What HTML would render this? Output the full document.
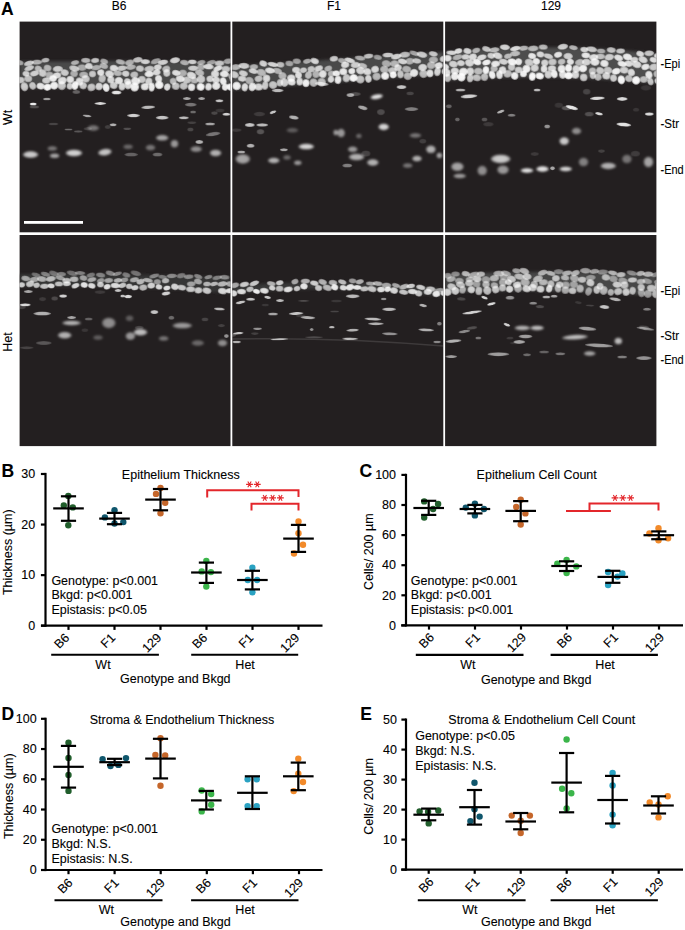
<!DOCTYPE html>
<html><head><meta charset="utf-8"><style>
html,body{margin:0;padding:0;background:#fff;}
body{width:685px;height:930px;overflow:hidden;}
svg{display:block;font-family:"Liberation Sans", sans-serif;}
text{stroke:#000;stroke-width:0.1px;}
</style></head><body>
<svg width="685" height="930" viewBox="0 0 685 930">
<defs><filter id="bl" x="-20%" y="-20%" width="140%" height="140%"><feGaussianBlur stdDeviation="0.7"/></filter><radialGradient id="ng"><stop offset="0" stop-color="#fff"/><stop offset="0.65" stop-color="#fff" stop-opacity="0.97"/><stop offset="1" stop-color="#fff" stop-opacity="0.5"/></radialGradient><filter id="bl4" x="-20%" y="-20%" width="140%" height="140%"><feGaussianBlur stdDeviation="1.1"/></filter><filter id="bl3" x="-10%" y="-50%" width="120%" height="200%"><feGaussianBlur stdDeviation="6"/></filter><filter id="bl2" x="-5%" y="-50%" width="110%" height="200%"><feGaussianBlur stdDeviation="1.6"/></filter><clipPath id="cp0"><rect x="0" y="0" width="210.9" height="210.7"/></clipPath><clipPath id="cp1"><rect x="0" y="0" width="211" height="210.7"/></clipPath><clipPath id="cp2"><rect x="0" y="0" width="211.3" height="210.7"/></clipPath><clipPath id="cp3"><rect x="0" y="0" width="210.9" height="211.1"/></clipPath><clipPath id="cp4"><rect x="0" y="0" width="211" height="211.1"/></clipPath><clipPath id="cp5"><rect x="0" y="0" width="211.3" height="211.1"/></clipPath></defs>
<g transform="translate(19.6 21.6)"><rect x="0" y="0" width="210.9" height="210.7" fill="#231f20"/>
<g clip-path="url(#cp0)"><g filter="url(#bl)" fill="url(#ng)">
<polygon points="0,40 8.79,39.9 17.58,39.81 26.38,39.73 35.17,39.67 43.96,39.61 52.75,39.56 61.54,39.53 70.33,39.5 79.12,39.48 87.92,39.48 96.71,39.48 105.5,39.5 114.29,39.53 123.08,39.56 131.88,39.61 140.67,39.67 149.46,39.73 158.25,39.81 167.04,39.9 175.83,40 184.62,40.11 193.42,40.23 202.21,40.36 211,40.5 211,66.5 202.21,66.5 193.42,66.5 184.62,66.5 175.83,66.5 167.04,66.5 158.25,66.5 149.46,66.5 140.67,66.5 131.88,66.5 123.08,66.5 114.29,66.5 105.5,66.5 96.71,66.5 87.92,66.5 79.12,66.5 70.33,66.5 61.54,66.5 52.75,66.5 43.96,66.5 35.17,66.5 26.38,66.5 17.58,66.5 8.79,66.5 0,66.5" fill="rgb(72,72,72)" filter="url(#bl2)"/>
<ellipse cx="4.86" cy="65.18" rx="3.89" ry="4.7" fill-opacity="0.74" transform="rotate(-14.79 4.86 65.18)"/>
<ellipse cx="13.04" cy="64.2" rx="3.49" ry="4.06" fill-opacity="0.69" transform="rotate(-18.37 13.04 64.2)"/>
<ellipse cx="20.99" cy="64.58" rx="4.36" ry="3.52" fill-opacity="0.87" transform="rotate(13.34 20.99 64.58)"/>
<ellipse cx="27.84" cy="65.61" rx="4.11" ry="3.63" fill-opacity="0.97" transform="rotate(-13.59 27.84 65.61)"/>
<ellipse cx="34.56" cy="64.01" rx="4.22" ry="4.17" fill-opacity="0.92" transform="rotate(-12.23 34.56 64.01)"/>
<ellipse cx="42.16" cy="64.03" rx="4.37" ry="4.57" fill-opacity="0.7" transform="rotate(-8.25 42.16 64.03)"/>
<ellipse cx="50.19" cy="64.55" rx="3.21" ry="3.67" fill-opacity="0.74" transform="rotate(6.08 50.19 64.55)"/>
<ellipse cx="55.42" cy="63.93" rx="3.46" ry="4.58" fill-opacity="0.94" transform="rotate(5.3 55.42 63.93)"/>
<ellipse cx="63.61" cy="64.05" rx="3.82" ry="3.74" fill-opacity="0.72" transform="rotate(14.86 63.61 64.05)"/>
<ellipse cx="71.83" cy="65.77" rx="4.2" ry="4.01" fill-opacity="0.7" transform="rotate(-7.05 71.83 65.77)"/>
<ellipse cx="79.48" cy="64.88" rx="3.81" ry="3.99" fill-opacity="0.79" transform="rotate(16.75 79.48 64.88)"/>
<ellipse cx="86.46" cy="65.99" rx="3.64" ry="4.59" fill-opacity="0.92" transform="rotate(-16.06 86.46 65.99)"/>
<ellipse cx="94.09" cy="63.84" rx="4.02" ry="3.69" fill-opacity="0.74" transform="rotate(10.65 94.09 63.84)"/>
<ellipse cx="102.42" cy="64.88" rx="3.47" ry="4.25" fill-opacity="0.79" transform="rotate(4.81 102.42 64.88)"/>
<ellipse cx="108.67" cy="63.45" rx="3.82" ry="4.46" fill-opacity="0.81" transform="rotate(13.47 108.67 63.45)"/>
<ellipse cx="115.05" cy="65.47" rx="4.48" ry="4.72" fill-opacity="0.93" transform="rotate(4.24 115.05 65.47)"/>
<ellipse cx="125.25" cy="65.16" rx="4.13" ry="3.77" fill-opacity="0.87" transform="rotate(-3.12 125.25 65.16)"/>
<ellipse cx="132.13" cy="65.55" rx="3.2" ry="4.65" fill-opacity="0.91" transform="rotate(3.3 132.13 65.55)"/>
<ellipse cx="139.69" cy="63.45" rx="4.47" ry="4.26" fill-opacity="0.95" transform="rotate(9.01 139.69 63.45)"/>
<ellipse cx="147.69" cy="65.46" rx="3.33" ry="3.88" fill-opacity="0.83" transform="rotate(16.4 147.69 65.46)"/>
<ellipse cx="156.17" cy="64.58" rx="4.04" ry="3.85" fill-opacity="0.68" transform="rotate(10.6 156.17 64.58)"/>
<ellipse cx="164.16" cy="64.47" rx="4.28" ry="3.82" fill-opacity="0.68" transform="rotate(-16.97 164.16 64.47)"/>
<ellipse cx="171.93" cy="65.62" rx="3.82" ry="4.04" fill-opacity="0.89" transform="rotate(0.31 171.93 65.62)"/>
<ellipse cx="181.1" cy="65.25" rx="4.21" ry="4.02" fill-opacity="0.95" transform="rotate(13.34 181.1 65.25)"/>
<ellipse cx="188.95" cy="65.24" rx="3.47" ry="3.96" fill-opacity="0.85" transform="rotate(11.17 188.95 65.24)"/>
<ellipse cx="196.58" cy="64.39" rx="4.37" ry="4.05" fill-opacity="0.88" transform="rotate(-12.44 196.58 64.39)"/>
<ellipse cx="205.53" cy="65.49" rx="3.27" ry="3.82" fill-opacity="0.9" transform="rotate(10.42 205.53 65.49)"/>
<ellipse cx="211.25" cy="65.51" rx="4.47" ry="3.86" fill-opacity="0.97" transform="rotate(18.63 211.25 65.51)"/>
<ellipse cx="0.63" cy="58.52" rx="4.67" ry="3.44" fill-opacity="0.71" transform="rotate(-3 0.63 58.52)"/>
<ellipse cx="8.64" cy="57.05" rx="4.19" ry="3.7" fill-opacity="0.66" transform="rotate(0.31 8.64 57.05)"/>
<ellipse cx="26.73" cy="58.89" rx="4.39" ry="3.31" fill-opacity="0.74" transform="rotate(-2.19 26.73 58.89)"/>
<ellipse cx="33.47" cy="56.94" rx="3.97" ry="3.46" fill-opacity="0.9" transform="rotate(0.65 33.47 56.94)"/>
<ellipse cx="42.69" cy="58.97" rx="4.76" ry="3.93" fill-opacity="0.83" transform="rotate(-16.2 42.69 58.97)"/>
<ellipse cx="50.71" cy="57.89" rx="4.04" ry="3.84" fill-opacity="0.85" transform="rotate(-1.78 50.71 57.89)"/>
<ellipse cx="59.81" cy="59.96" rx="3.96" ry="4.23" fill-opacity="0.83" transform="rotate(4.98 59.81 59.96)"/>
<ellipse cx="66.04" cy="57.28" rx="4.35" ry="3.85" fill-opacity="0.71" transform="rotate(5.78 66.04 57.28)"/>
<ellipse cx="82.56" cy="56.97" rx="3.82" ry="4.33" fill-opacity="0.66" transform="rotate(10.66 82.56 56.97)"/>
<ellipse cx="91.3" cy="58.17" rx="3.81" ry="3.88" fill-opacity="0.79" transform="rotate(4.75 91.3 58.17)"/>
<ellipse cx="99.24" cy="59.05" rx="4.47" ry="3.86" fill-opacity="0.86" transform="rotate(-5.28 99.24 59.05)"/>
<ellipse cx="107.95" cy="59.87" rx="3.86" ry="3.41" fill-opacity="0.77" transform="rotate(15.75 107.95 59.87)"/>
<ellipse cx="116.02" cy="59.53" rx="4.82" ry="4.23" fill-opacity="0.87" transform="rotate(11.46 116.02 59.53)"/>
<ellipse cx="122.27" cy="57.89" rx="4.13" ry="3.75" fill-opacity="0.7" transform="rotate(3.08 122.27 57.89)"/>
<ellipse cx="129.22" cy="59.95" rx="3.7" ry="4.18" fill-opacity="0.76" transform="rotate(10.44 129.22 59.95)"/>
<ellipse cx="138.99" cy="57.14" rx="3.7" ry="3.98" fill-opacity="0.86" transform="rotate(-15.93 138.99 57.14)"/>
<ellipse cx="153.54" cy="59.74" rx="3.49" ry="3.69" fill-opacity="0.62" transform="rotate(-16.28 153.54 59.74)"/>
<ellipse cx="160.56" cy="57.25" rx="4.71" ry="3.58" fill-opacity="0.84" transform="rotate(8.54 160.56 57.25)"/>
<ellipse cx="167.14" cy="58.4" rx="4.46" ry="3.72" fill-opacity="0.7" transform="rotate(7.59 167.14 58.4)"/>
<ellipse cx="174.71" cy="58.65" rx="4.12" ry="3.4" fill-opacity="0.62" transform="rotate(7.87 174.71 58.65)"/>
<ellipse cx="181.4" cy="57.58" rx="4.46" ry="4.26" fill-opacity="0.72" transform="rotate(2.79 181.4 57.58)"/>
<ellipse cx="190.47" cy="57.23" rx="3.87" ry="3.48" fill-opacity="0.76" transform="rotate(-9.25 190.47 57.23)"/>
<ellipse cx="196.52" cy="58.5" rx="4.05" ry="3.39" fill-opacity="0.8" transform="rotate(-8.25 196.52 58.5)"/>
<ellipse cx="203.62" cy="59.49" rx="3.48" ry="4.07" fill-opacity="0.9" transform="rotate(-18.09 203.62 59.49)"/>
<ellipse cx="213.32" cy="57.41" rx="3.6" ry="3.21" fill-opacity="0.66" transform="rotate(-5.99 213.32 57.41)"/>
<ellipse cx="6.49" cy="52.18" rx="3.79" ry="2.93" fill-opacity="0.74" transform="rotate(7.11 6.49 52.18)"/>
<ellipse cx="14.91" cy="51.85" rx="4.8" ry="2.97" fill-opacity="0.74" transform="rotate(-14.15 14.91 51.85)"/>
<ellipse cx="23.09" cy="51.51" rx="4.02" ry="3.9" fill-opacity="0.73" transform="rotate(15.44 23.09 51.51)"/>
<ellipse cx="30.03" cy="53.71" rx="4.27" ry="3.82" fill-opacity="0.59" transform="rotate(13.69 30.03 53.71)"/>
<ellipse cx="37.38" cy="53.86" rx="4.39" ry="3.3" fill-opacity="0.81" transform="rotate(-7.31 37.38 53.86)"/>
<ellipse cx="45.08" cy="51.02" rx="4.35" ry="3.45" fill-opacity="0.72" transform="rotate(15.06 45.08 51.02)"/>
<ellipse cx="54.47" cy="52.03" rx="4.01" ry="3.44" fill-opacity="0.56" transform="rotate(15.42 54.47 52.03)"/>
<ellipse cx="64.16" cy="53.25" rx="4.75" ry="3.46" fill-opacity="0.57" transform="rotate(2.02 64.16 53.25)"/>
<ellipse cx="72.9" cy="52.41" rx="3.71" ry="3.43" fill-opacity="0.7" transform="rotate(-1.12 72.9 52.41)"/>
<ellipse cx="81.18" cy="50.93" rx="3.78" ry="3.4" fill-opacity="0.84" transform="rotate(-6.85 81.18 50.93)"/>
<ellipse cx="89.92" cy="52.42" rx="4.61" ry="3.79" fill-opacity="0.81" transform="rotate(14.43 89.92 52.42)"/>
<ellipse cx="98.04" cy="51.62" rx="4.67" ry="2.93" fill-opacity="0.61" transform="rotate(7.11 98.04 51.62)"/>
<ellipse cx="106.14" cy="52.1" rx="3.94" ry="3.23" fill-opacity="0.76" transform="rotate(9.04 106.14 52.1)"/>
<ellipse cx="114.65" cy="53.14" rx="4.22" ry="3.43" fill-opacity="0.65" transform="rotate(-12.05 114.65 53.14)"/>
<ellipse cx="129.59" cy="52.47" rx="4.94" ry="3.2" fill-opacity="0.88" transform="rotate(-3.16 129.59 52.47)"/>
<ellipse cx="137.14" cy="50.72" rx="4.09" ry="3.22" fill-opacity="0.8" transform="rotate(-10.65 137.14 50.72)"/>
<ellipse cx="147.19" cy="51.39" rx="3.72" ry="3.93" fill-opacity="0.72" transform="rotate(-2.95 147.19 51.39)"/>
<ellipse cx="156.64" cy="51.32" rx="4.48" ry="3.09" fill-opacity="0.83" transform="rotate(11.52 156.64 51.32)"/>
<ellipse cx="163.26" cy="51.47" rx="4.24" ry="3.63" fill-opacity="0.57" transform="rotate(0.04 163.26 51.47)"/>
<ellipse cx="171.9" cy="53.73" rx="5.15" ry="3.65" fill-opacity="0.81" transform="rotate(19.49 171.9 53.73)"/>
<ellipse cx="180.04" cy="51.12" rx="4.92" ry="3.44" fill-opacity="0.63" transform="rotate(15.72 180.04 51.12)"/>
<ellipse cx="195.46" cy="52.39" rx="4.27" ry="3.94" fill-opacity="0.81" transform="rotate(11.85 195.46 52.39)"/>
<ellipse cx="204.77" cy="52.48" rx="4.79" ry="3.42" fill-opacity="0.88" transform="rotate(4.32 204.77 52.48)"/>
<ellipse cx="213.21" cy="54.22" rx="4.76" ry="3.67" fill-opacity="0.59" transform="rotate(-15.34 213.21 54.22)"/>
<ellipse cx="9.64" cy="46.57" rx="5.4" ry="2.64" fill-opacity="0.71" transform="rotate(-19.4 9.64 46.57)"/>
<ellipse cx="18.74" cy="47.06" rx="3.92" ry="3.18" fill-opacity="0.63" transform="rotate(17.69 18.74 47.06)"/>
<ellipse cx="27.97" cy="46.42" rx="4.16" ry="3.47" fill-opacity="0.6" transform="rotate(15.97 27.97 46.42)"/>
<ellipse cx="38.24" cy="47.33" rx="5.28" ry="3.19" fill-opacity="0.73" transform="rotate(-3.09 38.24 47.33)"/>
<ellipse cx="54.68" cy="46.89" rx="5.4" ry="3.13" fill-opacity="0.7" transform="rotate(14.85 54.68 46.89)"/>
<ellipse cx="62.47" cy="45.97" rx="4.96" ry="3.36" fill-opacity="0.53" transform="rotate(-1.07 62.47 45.97)"/>
<ellipse cx="69.29" cy="44.51" rx="3.97" ry="3.32" fill-opacity="0.78" transform="rotate(12.33 69.29 44.51)"/>
<ellipse cx="76.42" cy="46.02" rx="5.34" ry="2.74" fill-opacity="0.56" transform="rotate(-5.12 76.42 46.02)"/>
<ellipse cx="84.21" cy="44.4" rx="4.56" ry="3" fill-opacity="0.58" transform="rotate(16.95 84.21 44.4)"/>
<ellipse cx="94.24" cy="46.55" rx="4.33" ry="3.43" fill-opacity="0.81" transform="rotate(6.87 94.24 46.55)"/>
<ellipse cx="102.15" cy="46.63" rx="5.3" ry="2.82" fill-opacity="0.71" transform="rotate(-7.33 102.15 46.63)"/>
<ellipse cx="111.24" cy="45.59" rx="5.32" ry="2.81" fill-opacity="0.59" transform="rotate(-6.96 111.24 45.59)"/>
<ellipse cx="120.38" cy="46.97" rx="4.33" ry="3.32" fill-opacity="0.69" transform="rotate(11.53 120.38 46.97)"/>
<ellipse cx="129.75" cy="47.33" rx="5.33" ry="3.3" fill-opacity="0.69" transform="rotate(-5 129.75 47.33)"/>
<ellipse cx="138.16" cy="45.66" rx="4.16" ry="3.11" fill-opacity="0.78" transform="rotate(-6.76 138.16 45.66)"/>
<ellipse cx="146.65" cy="47.44" rx="4.26" ry="3.5" fill-opacity="0.62" transform="rotate(-16.8 146.65 47.44)"/>
<ellipse cx="173.62" cy="46.62" rx="5.42" ry="2.84" fill-opacity="0.73" transform="rotate(-0.81 173.62 46.62)"/>
<ellipse cx="181.47" cy="45.34" rx="3.99" ry="3.53" fill-opacity="0.54" transform="rotate(-1.79 181.47 45.34)"/>
<ellipse cx="188.96" cy="45.12" rx="5.43" ry="2.87" fill-opacity="0.8" transform="rotate(3.09 188.96 45.12)"/>
<ellipse cx="198.36" cy="46.8" rx="4.98" ry="2.74" fill-opacity="0.83" transform="rotate(-19.32 198.36 46.8)"/>
<ellipse cx="206.29" cy="47.53" rx="4.48" ry="3.29" fill-opacity="0.69" transform="rotate(2.4 206.29 47.53)"/>
<ellipse cx="214.18" cy="47.21" rx="4.36" ry="2.68" fill-opacity="0.71" transform="rotate(17.32 214.18 47.21)"/>
<ellipse cx="-0.08" cy="41.08" rx="4.26" ry="2.68" fill-opacity="0.55" transform="rotate(12.29 -0.08 41.08)"/>
<ellipse cx="9.32" cy="41.7" rx="5.28" ry="2.73" fill-opacity="0.71" transform="rotate(-14.94 9.32 41.7)"/>
<ellipse cx="17.33" cy="40.57" rx="5.56" ry="2.58" fill-opacity="0.6" transform="rotate(-2.37 17.33 40.57)"/>
<ellipse cx="25.83" cy="38.62" rx="4.32" ry="2.44" fill-opacity="0.66" transform="rotate(-9.91 25.83 38.62)"/>
<ellipse cx="55.45" cy="40.92" rx="4.37" ry="2.43" fill-opacity="0.59" transform="rotate(-11.29 55.45 40.92)"/>
<ellipse cx="66.22" cy="38.76" rx="4.91" ry="2.62" fill-opacity="0.65" transform="rotate(1.84 66.22 38.76)"/>
<ellipse cx="75.54" cy="38.84" rx="4.28" ry="2.6" fill-opacity="0.72" transform="rotate(-4.06 75.54 38.84)"/>
<ellipse cx="84.57" cy="39.81" rx="4.21" ry="2.81" fill-opacity="0.57" transform="rotate(16.86 84.57 39.81)"/>
<ellipse cx="100.9" cy="40.37" rx="5.06" ry="2.68" fill-opacity="0.6" transform="rotate(14.37 100.9 40.37)"/>
<ellipse cx="109.97" cy="40.96" rx="4.78" ry="3.14" fill-opacity="0.59" transform="rotate(-15.17 109.97 40.96)"/>
<ellipse cx="118.16" cy="38.24" rx="5.04" ry="2.98" fill-opacity="0.71" transform="rotate(-7.37 118.16 38.24)"/>
<ellipse cx="125.72" cy="40.06" rx="4.83" ry="2.55" fill-opacity="0.78" transform="rotate(1.73 125.72 40.06)"/>
<ellipse cx="136.2" cy="39.57" rx="5.43" ry="2.78" fill-opacity="0.55" transform="rotate(-19.06 136.2 39.57)"/>
<ellipse cx="143.38" cy="40.69" rx="5.44" ry="2.7" fill-opacity="0.76" transform="rotate(-9.67 143.38 40.69)"/>
<ellipse cx="155.37" cy="38.67" rx="5.37" ry="3.12" fill-opacity="0.79" transform="rotate(-9.32 155.37 38.67)"/>
<ellipse cx="164.89" cy="40.97" rx="4.67" ry="2.75" fill-opacity="0.59" transform="rotate(10.26 164.89 40.97)"/>
<ellipse cx="172.78" cy="40.25" rx="4.52" ry="2.39" fill-opacity="0.76" transform="rotate(2.49 172.78 40.25)"/>
<ellipse cx="181.69" cy="40.75" rx="4.46" ry="2.43" fill-opacity="0.52" transform="rotate(-10.7 181.69 40.75)"/>
<ellipse cx="191.78" cy="40.8" rx="4.83" ry="2.44" fill-opacity="0.52" transform="rotate(-13.22 191.78 40.8)"/>
<ellipse cx="199.89" cy="41.65" rx="5.01" ry="2.91" fill-opacity="0.7" transform="rotate(-2.6 199.89 41.65)"/>
<ellipse cx="208.94" cy="39.56" rx="5.4" ry="2.84" fill-opacity="0.57" transform="rotate(-4.58 208.94 39.56)"/>
<ellipse cx="58.67" cy="109.89" rx="4.33" ry="1.17" fill-opacity="0.25"/>
<ellipse cx="194.85" cy="91.49" rx="3.4" ry="1.91" fill-opacity="0.18"/>
<ellipse cx="107.63" cy="107.18" rx="4.07" ry="1.33" fill-opacity="0.22"/>
<ellipse cx="88.2" cy="105.33" rx="3.12" ry="2" fill-opacity="0.14"/>
<ellipse cx="170.84" cy="107.95" rx="3.23" ry="2" fill-opacity="0.18"/>
<ellipse cx="14.79" cy="85.34" rx="4.84" ry="1.68" fill-opacity="0.21"/>
<ellipse cx="68.22" cy="107.13" rx="4.25" ry="1.7" fill-opacity="0.15"/>
<ellipse cx="172.25" cy="101.08" rx="4.56" ry="1.34" fill-opacity="0.15"/>
<ellipse cx="33.88" cy="102.39" rx="4.98" ry="1.34" fill-opacity="0.17"/>
<ellipse cx="200.46" cy="88.9" rx="4.62" ry="1.88" fill-opacity="0.11"/>
<ellipse cx="13.6" cy="82.4" rx="3.5" ry="1.5" fill-opacity="0.93"/>
<ellipse cx="27.3" cy="77.5" rx="4" ry="1.25" fill-opacity="0.57"/>
<ellipse cx="80.7" cy="81.9" rx="6" ry="1.5" fill-opacity="0.84"/>
<ellipse cx="96.9" cy="71" rx="5" ry="2" fill-opacity="0.89"/>
<ellipse cx="67.5" cy="94.3" rx="4.5" ry="1.25" fill-opacity="0.61" transform="rotate(8 67.5 94.3)"/>
<ellipse cx="93.5" cy="103.1" rx="3.5" ry="1.5" fill-opacity="0.66"/>
<ellipse cx="48.9" cy="107.9" rx="4" ry="1" fill-opacity="0.34"/>
<ellipse cx="56.7" cy="70.3" rx="4" ry="2" fill-opacity="0.3"/>
<ellipse cx="128.6" cy="85.7" rx="7" ry="1.75" fill-opacity="0.7" transform="rotate(-3 128.6 85.7)"/>
<ellipse cx="113.9" cy="94" rx="6.5" ry="1.75" fill-opacity="0.8"/>
<ellipse cx="142.6" cy="96.1" rx="6.5" ry="2" fill-opacity="0.75"/>
<ellipse cx="164.2" cy="96.1" rx="5" ry="1.5" fill-opacity="0.7"/>
<ellipse cx="167.3" cy="76.9" rx="4" ry="1.5" fill-opacity="0.61"/>
<ellipse cx="182" cy="76.9" rx="3.5" ry="1.5" fill-opacity="0.61"/>
<ellipse cx="199.8" cy="79.1" rx="4" ry="1.5" fill-opacity="0.75"/>
<ellipse cx="171.2" cy="83.1" rx="6" ry="2" fill-opacity="0.39"/>
<ellipse cx="173.5" cy="90.4" rx="3" ry="1.5" fill-opacity="0.34"/>
<ellipse cx="206.8" cy="92.7" rx="4" ry="1.5" fill-opacity="0.8"/>
<ellipse cx="190.5" cy="102.3" rx="5" ry="1.5" fill-opacity="0.61"/>
<ellipse cx="193.6" cy="112.5" rx="7.5" ry="2" fill-opacity="0.39" transform="rotate(-8 193.6 112.5)"/>
<ellipse cx="179.7" cy="120.3" rx="4" ry="2" fill-opacity="0.66"/>
<ellipse cx="137.9" cy="133" rx="5" ry="2" fill-opacity="0.34"/>
<ellipse cx="111.6" cy="133" rx="7" ry="2" fill-opacity="0.3"/>
<g filter="url(#bl4)"><ellipse cx="73.7" cy="106.4" rx="6" ry="3" fill-opacity="0.39"/><ellipse cx="11" cy="133" rx="8" ry="3.5" fill-opacity="0.77"/><ellipse cx="35" cy="134.2" rx="5" ry="2.5" fill-opacity="0.6"/><ellipse cx="54.4" cy="131.4" rx="8.5" ry="3.5" fill-opacity="0.8"/><ellipse cx="85.3" cy="130.6" rx="7" ry="3.5" fill-opacity="0.74" transform="rotate(-8 85.3 130.6)"/><ellipse cx="32.7" cy="126.8" rx="5" ry="2.5" fill-opacity="0.39"/><ellipse cx="142.6" cy="116.2" rx="6.5" ry="3" fill-opacity="0.6"/><ellipse cx="154.9" cy="122.1" rx="4" ry="4" fill-opacity="0.55"/><ellipse cx="130.9" cy="126" rx="5" ry="3" fill-opacity="0.39"/><ellipse cx="176.6" cy="127.5" rx="6" ry="3" fill-opacity="0.5"/><ellipse cx="196" cy="131.4" rx="6" ry="3.5" fill-opacity="0.66"/><ellipse cx="108.5" cy="125.2" rx="5" ry="2.5" fill-opacity="0.33"/></g>
</g></g></g>
<g transform="translate(232.3 21.6)"><rect x="0" y="0" width="211" height="210.7" fill="#231f20"/>
<g clip-path="url(#cp1)"><g filter="url(#bl)" fill="url(#ng)">
<polygon points="0,44.5 8.79,43.92 17.58,43.33 26.38,42.75 35.17,42.17 43.96,41.58 52.75,41 61.54,40.42 70.33,39.83 79.12,39.25 87.92,38.67 96.71,38.08 105.5,37.5 114.29,36.92 123.08,36.33 131.88,35.75 140.67,35.17 149.46,34.58 158.25,34 167.04,33.42 175.83,32.83 184.62,32.25 193.42,31.67 202.21,31.08 211,30.5 211,52.5 202.21,53.17 193.42,53.83 184.62,54.5 175.83,55.17 167.04,55.83 158.25,56.5 149.46,57.17 140.67,57.83 131.88,58.5 123.08,59.17 114.29,59.83 105.5,60.5 96.71,61.17 87.92,61.83 79.12,62.5 70.33,63.17 61.54,63.83 52.75,64.5 43.96,65.17 35.17,65.83 26.38,66.5 17.58,67.17 8.79,67.83 0,68.5" fill="rgb(72,72,72)" filter="url(#bl2)"/>
<ellipse cx="4.31" cy="64.36" rx="4.42" ry="4.42" fill-opacity="0.92" transform="rotate(-3.73 4.31 64.36)"/>
<ellipse cx="12.51" cy="65.71" rx="3.29" ry="4.36" fill-opacity="0.82" transform="rotate(8.34 12.51 65.71)"/>
<ellipse cx="20.06" cy="65.3" rx="3.89" ry="4.55" fill-opacity="0.88" transform="rotate(17.05 20.06 65.3)"/>
<ellipse cx="26.32" cy="65.34" rx="4.37" ry="3.77" fill-opacity="0.76" transform="rotate(3.71 26.32 65.34)"/>
<ellipse cx="32.89" cy="63.83" rx="3.27" ry="4.52" fill-opacity="0.72" transform="rotate(4.31 32.89 63.83)"/>
<ellipse cx="40.76" cy="63.43" rx="4.34" ry="4.11" fill-opacity="0.69" transform="rotate(19.53 40.76 63.43)"/>
<ellipse cx="47.61" cy="61.19" rx="3.38" ry="3.89" fill-opacity="0.68" transform="rotate(14.53 47.61 61.19)"/>
<ellipse cx="52.18" cy="60.88" rx="4.11" ry="4.48" fill-opacity="0.74" transform="rotate(-17.8 52.18 60.88)"/>
<ellipse cx="59.28" cy="60.48" rx="4.32" ry="3.57" fill-opacity="0.84" transform="rotate(16.01 59.28 60.48)"/>
<ellipse cx="67.38" cy="59.96" rx="3.37" ry="4.2" fill-opacity="0.81" transform="rotate(1.14 67.38 59.96)"/>
<ellipse cx="73.64" cy="61.55" rx="3.74" ry="4.07" fill-opacity="0.93" transform="rotate(1.66 73.64 61.55)"/>
<ellipse cx="81.25" cy="61.06" rx="4.24" ry="4.41" fill-opacity="0.66" transform="rotate(-9.86 81.25 61.06)"/>
<ellipse cx="89.38" cy="60.61" rx="4.37" ry="4.52" fill-opacity="0.65" transform="rotate(-10.08 89.38 60.61)"/>
<ellipse cx="98.66" cy="57.85" rx="3.39" ry="3.53" fill-opacity="0.8" transform="rotate(15.6 98.66 57.85)"/>
<ellipse cx="105.71" cy="58.21" rx="3.54" ry="4.33" fill-opacity="0.9" transform="rotate(5.93 105.71 58.21)"/>
<ellipse cx="114.14" cy="56.51" rx="3.82" ry="4.23" fill-opacity="0.71" transform="rotate(17.05 114.14 56.51)"/>
<ellipse cx="121.25" cy="56.33" rx="4.43" ry="3.99" fill-opacity="0.96" transform="rotate(-14.98 121.25 56.33)"/>
<ellipse cx="128.02" cy="57.9" rx="4.5" ry="4.24" fill-opacity="0.69" transform="rotate(4 128.02 57.9)"/>
<ellipse cx="136.1" cy="57.22" rx="3.43" ry="4.12" fill-opacity="0.79" transform="rotate(-8.81 136.1 57.22)"/>
<ellipse cx="144.34" cy="54.98" rx="4.38" ry="4.12" fill-opacity="0.62" transform="rotate(-7.87 144.34 54.98)"/>
<ellipse cx="152.79" cy="54.35" rx="4.17" ry="4" fill-opacity="0.93" transform="rotate(-4.03 152.79 54.35)"/>
<ellipse cx="160.91" cy="53.29" rx="3.69" ry="3.61" fill-opacity="0.93" transform="rotate(-18.08 160.91 53.29)"/>
<ellipse cx="168.2" cy="52.7" rx="3.38" ry="4.26" fill-opacity="0.69" transform="rotate(-3.83 168.2 52.7)"/>
<ellipse cx="175.49" cy="54.58" rx="4.41" ry="4.03" fill-opacity="0.64" transform="rotate(4.65 175.49 54.58)"/>
<ellipse cx="181.72" cy="51.32" rx="4.41" ry="4.21" fill-opacity="0.87" transform="rotate(-17.22 181.72 51.32)"/>
<ellipse cx="191.22" cy="52.24" rx="4.4" ry="4.36" fill-opacity="0.66" transform="rotate(-13.22 191.22 52.24)"/>
<ellipse cx="197.7" cy="51.75" rx="3.61" ry="4.14" fill-opacity="0.85" transform="rotate(-3.88 197.7 51.75)"/>
<ellipse cx="205.18" cy="49.95" rx="3.38" ry="4.67" fill-opacity="0.78" transform="rotate(10.43 205.18 49.95)"/>
<ellipse cx="212.52" cy="49.85" rx="3.25" ry="3.55" fill-opacity="0.82" transform="rotate(6.04 212.52 49.85)"/>
<ellipse cx="9.87" cy="57.13" rx="4.37" ry="3.12" fill-opacity="0.77" transform="rotate(4.82 9.87 57.13)"/>
<ellipse cx="17.2" cy="59.04" rx="4.47" ry="3.94" fill-opacity="0.58" transform="rotate(17.52 17.2 59.04)"/>
<ellipse cx="26.29" cy="57.1" rx="4.29" ry="3.39" fill-opacity="0.67" transform="rotate(-15.75 26.29 57.1)"/>
<ellipse cx="34.24" cy="56.78" rx="3.93" ry="4" fill-opacity="0.8" transform="rotate(6.33 34.24 56.78)"/>
<ellipse cx="50.2" cy="54.28" rx="4.35" ry="3.89" fill-opacity="0.6" transform="rotate(11.49 50.2 54.28)"/>
<ellipse cx="58.97" cy="56.46" rx="4.37" ry="3.82" fill-opacity="0.82" transform="rotate(-2.26 58.97 56.46)"/>
<ellipse cx="66.2" cy="53.49" rx="3.59" ry="3.74" fill-opacity="0.83" transform="rotate(-2.91 66.2 53.49)"/>
<ellipse cx="76.14" cy="53.45" rx="3.58" ry="4.03" fill-opacity="0.65" transform="rotate(17.07 76.14 53.45)"/>
<ellipse cx="83.69" cy="52.63" rx="3.8" ry="3.85" fill-opacity="0.59" transform="rotate(-11.2 83.69 52.63)"/>
<ellipse cx="90.48" cy="52.42" rx="4.02" ry="4.13" fill-opacity="0.85" transform="rotate(16.19 90.48 52.42)"/>
<ellipse cx="98.99" cy="52.24" rx="3.67" ry="3.42" fill-opacity="0.6" transform="rotate(-13.39 98.99 52.24)"/>
<ellipse cx="104.03" cy="51.79" rx="3.9" ry="3.12" fill-opacity="0.9" transform="rotate(4.04 104.03 51.79)"/>
<ellipse cx="111.01" cy="50.04" rx="4.19" ry="3.6" fill-opacity="0.88" transform="rotate(3.52 111.01 50.04)"/>
<ellipse cx="119.5" cy="49.53" rx="3.66" ry="3.26" fill-opacity="0.89" transform="rotate(-7.26 119.5 49.53)"/>
<ellipse cx="128.14" cy="48.98" rx="4.58" ry="4.01" fill-opacity="0.78" transform="rotate(13.43 128.14 48.98)"/>
<ellipse cx="135.07" cy="50.08" rx="4.24" ry="3.66" fill-opacity="0.8" transform="rotate(13.46 135.07 50.08)"/>
<ellipse cx="142.79" cy="47.7" rx="4.12" ry="3.65" fill-opacity="0.79" transform="rotate(-15.73 142.79 47.7)"/>
<ellipse cx="152.12" cy="47.91" rx="4.51" ry="3.87" fill-opacity="0.61" transform="rotate(8.24 152.12 47.91)"/>
<ellipse cx="160.1" cy="49.16" rx="4.48" ry="3.78" fill-opacity="0.69" transform="rotate(8.39 160.1 49.16)"/>
<ellipse cx="165.76" cy="46.14" rx="3.98" ry="3.59" fill-opacity="0.76" transform="rotate(8.84 165.76 46.14)"/>
<ellipse cx="174.36" cy="47.59" rx="4.81" ry="3.58" fill-opacity="0.58" transform="rotate(5.34 174.36 47.59)"/>
<ellipse cx="190.36" cy="45.84" rx="4.62" ry="3.78" fill-opacity="0.78" transform="rotate(-6.29 190.36 45.84)"/>
<ellipse cx="198.98" cy="43.64" rx="4.56" ry="4.06" fill-opacity="0.6" transform="rotate(-13.39 198.98 43.64)"/>
<ellipse cx="206.42" cy="43.91" rx="4.27" ry="3.35" fill-opacity="0.85" transform="rotate(-8.01 206.42 43.91)"/>
<ellipse cx="214.94" cy="42.54" rx="3.93" ry="3.18" fill-opacity="0.68" transform="rotate(18.74 214.94 42.54)"/>
<ellipse cx="1.85" cy="53.05" rx="4.98" ry="3.6" fill-opacity="0.73" transform="rotate(19.07 1.85 53.05)"/>
<ellipse cx="11.06" cy="51.85" rx="4.77" ry="3.05" fill-opacity="0.74" transform="rotate(17.34 11.06 51.85)"/>
<ellipse cx="20.97" cy="49.54" rx="4.84" ry="2.76" fill-opacity="0.75" transform="rotate(12.24 20.97 49.54)"/>
<ellipse cx="29.15" cy="50.89" rx="4.97" ry="3.69" fill-opacity="0.62" transform="rotate(17.23 29.15 50.89)"/>
<ellipse cx="37.61" cy="48.99" rx="5.13" ry="3.14" fill-opacity="0.82" transform="rotate(9.33 37.61 48.99)"/>
<ellipse cx="45.2" cy="49.38" rx="5.04" ry="3.05" fill-opacity="0.59" transform="rotate(18.18 45.2 49.38)"/>
<ellipse cx="63.82" cy="48.29" rx="4.23" ry="3.18" fill-opacity="0.78" transform="rotate(0.08 63.82 48.29)"/>
<ellipse cx="71.1" cy="48.62" rx="3.82" ry="2.91" fill-opacity="0.71" transform="rotate(-10.43 71.1 48.62)"/>
<ellipse cx="78.91" cy="47.64" rx="3.93" ry="3.39" fill-opacity="0.68" transform="rotate(-7.21 78.91 47.64)"/>
<ellipse cx="86.42" cy="46.87" rx="4.63" ry="3.01" fill-opacity="0.76" transform="rotate(-18.87 86.42 46.87)"/>
<ellipse cx="95.97" cy="46.96" rx="4.16" ry="3.02" fill-opacity="0.58" transform="rotate(-18.35 95.97 46.96)"/>
<ellipse cx="112.89" cy="43.2" rx="4.44" ry="3.43" fill-opacity="0.8" transform="rotate(-15.3 112.89 43.2)"/>
<ellipse cx="123.15" cy="43.43" rx="5.02" ry="3.18" fill-opacity="0.74" transform="rotate(-5.02 123.15 43.43)"/>
<ellipse cx="130.28" cy="44.34" rx="4.9" ry="3.01" fill-opacity="0.64" transform="rotate(15.05 130.28 44.34)"/>
<ellipse cx="154.1" cy="42.02" rx="4.89" ry="3.58" fill-opacity="0.55" transform="rotate(11.27 154.1 42.02)"/>
<ellipse cx="162.44" cy="42.21" rx="4.81" ry="3.7" fill-opacity="0.6" transform="rotate(3.79 162.44 42.21)"/>
<ellipse cx="170.07" cy="39.83" rx="4.74" ry="2.94" fill-opacity="0.77" transform="rotate(13.43 170.07 39.83)"/>
<ellipse cx="177.46" cy="39.63" rx="4.74" ry="3.54" fill-opacity="0.57" transform="rotate(-6.92 177.46 39.63)"/>
<ellipse cx="184.55" cy="39.32" rx="4.56" ry="2.78" fill-opacity="0.69" transform="rotate(8.38 184.55 39.32)"/>
<ellipse cx="201.09" cy="38.26" rx="4.9" ry="3.51" fill-opacity="0.56" transform="rotate(-0.18 201.09 38.26)"/>
<ellipse cx="211.85" cy="37.15" rx="4.64" ry="3.4" fill-opacity="0.76" transform="rotate(-15.27 211.85 37.15)"/>
<ellipse cx="3.2" cy="45.53" rx="5.56" ry="3.14" fill-opacity="0.61" transform="rotate(-5.25 3.2 45.53)"/>
<ellipse cx="11.68" cy="44.24" rx="5.69" ry="3.18" fill-opacity="0.75" transform="rotate(3.66 11.68 44.24)"/>
<ellipse cx="21.6" cy="45.25" rx="4.37" ry="2.81" fill-opacity="0.58" transform="rotate(-3.31 21.6 45.25)"/>
<ellipse cx="30.98" cy="41.94" rx="4.23" ry="3.17" fill-opacity="0.78" transform="rotate(18.97 30.98 41.94)"/>
<ellipse cx="40.39" cy="42.86" rx="5.66" ry="2.43" fill-opacity="0.78" transform="rotate(11.29 40.39 42.86)"/>
<ellipse cx="48.07" cy="43.14" rx="4.22" ry="2.97" fill-opacity="0.66" transform="rotate(2.02 48.07 43.14)"/>
<ellipse cx="57.11" cy="41.86" rx="4.23" ry="2.94" fill-opacity="0.53" transform="rotate(7.8 57.11 41.86)"/>
<ellipse cx="64.44" cy="39.6" rx="4.33" ry="2.87" fill-opacity="0.54" transform="rotate(3.9 64.44 39.6)"/>
<ellipse cx="74.87" cy="39.63" rx="4.36" ry="2.57" fill-opacity="0.59" transform="rotate(-11.71 74.87 39.63)"/>
<ellipse cx="82.37" cy="39.42" rx="4.54" ry="3.07" fill-opacity="0.79" transform="rotate(18.88 82.37 39.42)"/>
<ellipse cx="101.59" cy="37.14" rx="4.47" ry="2.96" fill-opacity="0.74" transform="rotate(-10.75 101.59 37.14)"/>
<ellipse cx="109.83" cy="39.15" rx="4.48" ry="2.74" fill-opacity="0.55" transform="rotate(14.62 109.83 39.15)"/>
<ellipse cx="117.48" cy="38.72" rx="5.75" ry="2.53" fill-opacity="0.79" transform="rotate(17.55 117.48 38.72)"/>
<ellipse cx="127.67" cy="36.43" rx="5.48" ry="2.52" fill-opacity="0.58" transform="rotate(9.5 127.67 36.43)"/>
<ellipse cx="136.22" cy="34.52" rx="5.1" ry="2.56" fill-opacity="0.7" transform="rotate(-6.8 136.22 34.52)"/>
<ellipse cx="145.46" cy="35.71" rx="4.36" ry="2.6" fill-opacity="0.5" transform="rotate(11.73 145.46 35.71)"/>
<ellipse cx="155.56" cy="33.41" rx="5.68" ry="2.56" fill-opacity="0.75" transform="rotate(-1.35 155.56 33.41)"/>
<ellipse cx="163.98" cy="34.98" rx="5.59" ry="2.91" fill-opacity="0.76" transform="rotate(-11.76 163.98 34.98)"/>
<ellipse cx="172.46" cy="33.07" rx="5.73" ry="3.14" fill-opacity="0.68" transform="rotate(-6.67 172.46 33.07)"/>
<ellipse cx="182.04" cy="31.68" rx="5.24" ry="2.41" fill-opacity="0.57" transform="rotate(16.78 182.04 31.68)"/>
<ellipse cx="189.73" cy="33.03" rx="5.56" ry="3.12" fill-opacity="0.73" transform="rotate(12.79 189.73 33.03)"/>
<ellipse cx="201" cy="32.22" rx="4.73" ry="2.68" fill-opacity="0.71" transform="rotate(12.88 201 32.22)"/>
<ellipse cx="27.11" cy="92.49" rx="5.85" ry="2.39" fill-opacity="0.13"/>
<ellipse cx="123.3" cy="72.47" rx="5.27" ry="2" fill-opacity="0.21"/>
<ellipse cx="190.53" cy="119.64" rx="3.61" ry="2.42" fill-opacity="0.14"/>
<ellipse cx="28.48" cy="66.24" rx="5.65" ry="2.59" fill-opacity="0.19"/>
<ellipse cx="177.86" cy="71.85" rx="3.87" ry="1.88" fill-opacity="0.17"/>
<ellipse cx="3.99" cy="108.49" rx="5.4" ry="1.86" fill-opacity="0.12"/>
<ellipse cx="11.96" cy="64.95" rx="4.45" ry="2.59" fill-opacity="0.1"/>
<ellipse cx="28.2" cy="110.15" rx="3.96" ry="2.72" fill-opacity="0.24"/>
<ellipse cx="148.6" cy="90.5" rx="4.1" ry="3.07" fill-opacity="0.2"/>
<ellipse cx="133.57" cy="132" rx="4.73" ry="3.19" fill-opacity="0.16"/>
<ellipse cx="45.4" cy="68.9" rx="6" ry="1.75" fill-opacity="0.7"/>
<ellipse cx="89.5" cy="62.3" rx="7" ry="2" fill-opacity="0.66" transform="rotate(5 89.5 62.3)"/>
<ellipse cx="40.7" cy="90.6" rx="3.5" ry="1.5" fill-opacity="0.75" transform="rotate(-20 40.7 90.6)"/>
<ellipse cx="61.6" cy="95.9" rx="5" ry="2" fill-opacity="0.66" transform="rotate(10 61.6 95.9)"/>
<ellipse cx="17.5" cy="103.3" rx="5" ry="2" fill-opacity="0.75"/>
<ellipse cx="29.9" cy="103.3" rx="6" ry="1.75" fill-opacity="0.7"/>
<ellipse cx="18.3" cy="124.2" rx="4" ry="2" fill-opacity="0.66"/>
<ellipse cx="9" cy="130.4" rx="4" ry="1.5" fill-opacity="0.61"/>
<ellipse cx="51.6" cy="128.1" rx="4" ry="1.5" fill-opacity="0.61"/>
<ellipse cx="169.2" cy="65.5" rx="5" ry="2" fill-opacity="0.75"/>
<ellipse cx="118.1" cy="73.5" rx="4" ry="2" fill-opacity="0.61"/>
<ellipse cx="130.5" cy="86.2" rx="5" ry="2" fill-opacity="0.61" transform="rotate(15 130.5 86.2)"/>
<ellipse cx="179.2" cy="87.5" rx="7" ry="2" fill-opacity="0.43"/>
<ellipse cx="115" cy="144" rx="5" ry="2" fill-opacity="0.43"/>
<g filter="url(#bl4)"><ellipse cx="60.1" cy="108.7" rx="6" ry="2.5" fill-opacity="0.28"/><ellipse cx="10.5" cy="137.4" rx="7.5" ry="5" fill-opacity="0.6"/><ellipse cx="74" cy="125" rx="8" ry="3" fill-opacity="0.82"/><ellipse cx="41.5" cy="138.9" rx="6" ry="3" fill-opacity="0.66"/><ellipse cx="65.5" cy="141.2" rx="4" ry="2.5" fill-opacity="0.55"/><ellipse cx="54.7" cy="135.8" rx="4" ry="2.5" fill-opacity="0.33"/><ellipse cx="103.4" cy="111" rx="2.5" ry="3" fill-opacity="0.55"/><ellipse cx="144.4" cy="75.1" rx="6.5" ry="2.5" fill-opacity="0.88" transform="rotate(-10 144.4 75.1)"/><ellipse cx="151.4" cy="105.3" rx="5.5" ry="3.5" fill-opacity="0.82"/><ellipse cx="108.8" cy="111.4" rx="4" ry="4.5" fill-opacity="0.55"/><ellipse cx="126.6" cy="114.5" rx="3" ry="2.5" fill-opacity="0.33"/><ellipse cx="183.1" cy="113.8" rx="6" ry="2.5" fill-opacity="0.39"/><ellipse cx="120.4" cy="127.7" rx="5" ry="3" fill-opacity="0.55"/><ellipse cx="124.3" cy="135.4" rx="8" ry="3.5" fill-opacity="0.66"/><ellipse cx="140.5" cy="140.9" rx="6" ry="3.5" fill-opacity="0.66"/><ellipse cx="198.6" cy="127.7" rx="5" ry="4" fill-opacity="0.66"/><ellipse cx="184.7" cy="137" rx="5" ry="3" fill-opacity="0.66"/><ellipse cx="207.1" cy="133.9" rx="3" ry="3" fill-opacity="0.6"/><ellipse cx="175.4" cy="144" rx="5" ry="2.5" fill-opacity="0.39"/></g>
</g></g></g>
<g transform="translate(445.1 21.6)"><rect x="0" y="0" width="211.3" height="210.7" fill="#231f20"/>
<g clip-path="url(#cp2)"><g filter="url(#bl)" fill="url(#ng)">
<polygon points="0,30.4 8.79,29.6 17.58,28.88 26.38,28.24 35.17,27.67 43.96,27.17 52.75,26.75 61.54,26.4 70.33,26.13 79.12,25.94 87.92,25.82 96.71,25.77 105.5,25.8 114.29,25.9 123.08,26.08 131.88,26.34 140.67,26.67 149.46,27.07 158.25,27.55 167.04,28.1 175.83,28.73 184.62,29.44 193.42,30.22 202.21,31.07 211,32 211,62 202.21,61.13 193.42,60.32 184.62,59.58 175.83,58.9 167.04,58.29 158.25,57.74 149.46,57.25 140.67,56.83 131.88,56.48 123.08,56.19 114.29,55.96 105.5,55.8 96.71,55.7 87.92,55.67 79.12,55.7 70.33,55.8 61.54,55.96 52.75,56.19 43.96,56.48 35.17,56.83 26.38,57.25 17.58,57.74 8.79,58.29 0,58.9" fill="rgb(78,78,78)" filter="url(#bl2)"/>
<ellipse cx="2.39" cy="56.39" rx="4.01" ry="4.26" fill-opacity="0.67" transform="rotate(8.29 2.39 56.39)"/>
<ellipse cx="9.72" cy="54.67" rx="3.93" ry="4.33" fill-opacity="0.91" transform="rotate(10.27 9.72 54.67)"/>
<ellipse cx="16.27" cy="55.57" rx="4.37" ry="4.54" fill-opacity="0.96" transform="rotate(0.98 16.27 55.57)"/>
<ellipse cx="25.09" cy="56.62" rx="3.32" ry="4.38" fill-opacity="0.73" transform="rotate(5.8 25.09 56.62)"/>
<ellipse cx="31.68" cy="56.25" rx="4.44" ry="3.6" fill-opacity="0.68" transform="rotate(12.41 31.68 56.25)"/>
<ellipse cx="39.42" cy="55.44" rx="3.83" ry="4.1" fill-opacity="0.66" transform="rotate(13.52 39.42 55.44)"/>
<ellipse cx="47.06" cy="53.21" rx="3.31" ry="4.52" fill-opacity="0.92" transform="rotate(-19.59 47.06 53.21)"/>
<ellipse cx="54.38" cy="53.1" rx="3.4" ry="4.59" fill-opacity="0.85" transform="rotate(-4.26 54.38 53.1)"/>
<ellipse cx="62.6" cy="52.22" rx="4.45" ry="3.91" fill-opacity="0.64" transform="rotate(-18.16 62.6 52.22)"/>
<ellipse cx="69.6" cy="54.27" rx="3.86" ry="4.02" fill-opacity="0.92" transform="rotate(-3.08 69.6 54.27)"/>
<ellipse cx="78.37" cy="52.22" rx="3.59" ry="3.53" fill-opacity="0.92" transform="rotate(3.03 78.37 52.22)"/>
<ellipse cx="87.24" cy="54.94" rx="3.59" ry="4.43" fill-opacity="0.97" transform="rotate(9.47 87.24 54.94)"/>
<ellipse cx="94.62" cy="54.43" rx="4.38" ry="3.6" fill-opacity="0.96" transform="rotate(8.76 94.62 54.43)"/>
<ellipse cx="103.28" cy="52.93" rx="4" ry="4.31" fill-opacity="0.76" transform="rotate(12.93 103.28 52.93)"/>
<ellipse cx="109.19" cy="52.28" rx="3.41" ry="4.5" fill-opacity="0.92" transform="rotate(-12.88 109.19 52.28)"/>
<ellipse cx="117.63" cy="53.01" rx="3.76" ry="4.32" fill-opacity="0.84" transform="rotate(-8.22 117.63 53.01)"/>
<ellipse cx="123.52" cy="54.04" rx="4.29" ry="3.98" fill-opacity="0.97" transform="rotate(2.64 123.52 54.04)"/>
<ellipse cx="130.12" cy="53.37" rx="4.08" ry="3.88" fill-opacity="0.79" transform="rotate(6.93 130.12 53.37)"/>
<ellipse cx="138.61" cy="55.91" rx="3.95" ry="4.02" fill-opacity="0.75" transform="rotate(-1.44 138.61 55.91)"/>
<ellipse cx="147.69" cy="53.81" rx="3.22" ry="3.89" fill-opacity="0.67" transform="rotate(-7.65 147.69 53.81)"/>
<ellipse cx="152.88" cy="55.43" rx="3.78" ry="3.93" fill-opacity="0.63" transform="rotate(-18.47 152.88 55.43)"/>
<ellipse cx="161.21" cy="54.21" rx="4.18" ry="3.84" fill-opacity="0.76" transform="rotate(8.02 161.21 54.21)"/>
<ellipse cx="168.43" cy="56.55" rx="3.55" ry="3.87" fill-opacity="0.74" transform="rotate(-4.6 168.43 56.55)"/>
<ellipse cx="176.21" cy="58.22" rx="3.86" ry="4.69" fill-opacity="0.96" transform="rotate(-10.51 176.21 58.22)"/>
<ellipse cx="183.72" cy="56.95" rx="3.97" ry="3.59" fill-opacity="0.66" transform="rotate(17.74 183.72 56.95)"/>
<ellipse cx="191.01" cy="58.76" rx="4.37" ry="4.46" fill-opacity="0.97" transform="rotate(15.43 191.01 58.76)"/>
<ellipse cx="198.62" cy="57.83" rx="4.12" ry="3.53" fill-opacity="0.64" transform="rotate(-2.03 198.62 57.83)"/>
<ellipse cx="205.33" cy="59.93" rx="3.19" ry="4.08" fill-opacity="0.7" transform="rotate(-18.35 205.33 59.93)"/>
<ellipse cx="213.58" cy="59.21" rx="4.3" ry="3.65" fill-opacity="0.87" transform="rotate(0.09 213.58 59.21)"/>
<ellipse cx="1.56" cy="51.16" rx="4.12" ry="4.15" fill-opacity="0.84" transform="rotate(3.94 1.56 51.16)"/>
<ellipse cx="9.7" cy="49.34" rx="4.37" ry="3.55" fill-opacity="0.81" transform="rotate(0.51 9.7 49.34)"/>
<ellipse cx="18.23" cy="50.3" rx="4.82" ry="4.32" fill-opacity="0.9" transform="rotate(-16.89 18.23 50.3)"/>
<ellipse cx="25.29" cy="49.7" rx="3.9" ry="4.08" fill-opacity="0.79" transform="rotate(-13.96 25.29 49.7)"/>
<ellipse cx="33.23" cy="49.62" rx="4.68" ry="3.62" fill-opacity="0.63" transform="rotate(3.15 33.23 49.62)"/>
<ellipse cx="40.83" cy="48.5" rx="3.49" ry="4.21" fill-opacity="0.94" transform="rotate(4.89 40.83 48.5)"/>
<ellipse cx="49.04" cy="46.97" rx="3.84" ry="3.32" fill-opacity="0.61" transform="rotate(17.61 49.04 46.97)"/>
<ellipse cx="57.44" cy="48.58" rx="3.92" ry="4.04" fill-opacity="0.83" transform="rotate(-6.36 57.44 48.58)"/>
<ellipse cx="66.46" cy="45.45" rx="3.78" ry="3.95" fill-opacity="0.7" transform="rotate(-9.13 66.46 45.45)"/>
<ellipse cx="73.63" cy="48.34" rx="4.17" ry="3.43" fill-opacity="0.74" transform="rotate(1.9 73.63 48.34)"/>
<ellipse cx="81.36" cy="47.22" rx="4.31" ry="4.22" fill-opacity="0.92" transform="rotate(6.13 81.36 47.22)"/>
<ellipse cx="89.58" cy="46.39" rx="4.26" ry="3.94" fill-opacity="0.77" transform="rotate(-9.8 89.58 46.39)"/>
<ellipse cx="98.99" cy="47.35" rx="3.54" ry="3.9" fill-opacity="0.85" transform="rotate(0.45 98.99 47.35)"/>
<ellipse cx="106.82" cy="46.79" rx="4.46" ry="3.23" fill-opacity="0.78" transform="rotate(-4.15 106.82 46.79)"/>
<ellipse cx="116.54" cy="47.23" rx="4.21" ry="4.23" fill-opacity="0.89" transform="rotate(-1.6 116.54 47.23)"/>
<ellipse cx="123.45" cy="46.38" rx="3.65" ry="4.33" fill-opacity="0.94" transform="rotate(3.89 123.45 46.38)"/>
<ellipse cx="131.14" cy="47.4" rx="4.06" ry="3.99" fill-opacity="0.82" transform="rotate(7.9 131.14 47.4)"/>
<ellipse cx="137.94" cy="46.81" rx="4.34" ry="4.08" fill-opacity="0.92" transform="rotate(-9.6 137.94 46.81)"/>
<ellipse cx="147.44" cy="49.41" rx="3.89" ry="3.78" fill-opacity="0.62" transform="rotate(-0.14 147.44 49.41)"/>
<ellipse cx="155.07" cy="49.04" rx="4.26" ry="3.64" fill-opacity="0.71" transform="rotate(19.32 155.07 49.04)"/>
<ellipse cx="162.83" cy="48.8" rx="4.59" ry="3.84" fill-opacity="0.68" transform="rotate(4.55 162.83 48.8)"/>
<ellipse cx="171.06" cy="49.7" rx="4.76" ry="3.39" fill-opacity="0.91" transform="rotate(-15.75 171.06 49.7)"/>
<ellipse cx="179.06" cy="48.54" rx="4.52" ry="3.63" fill-opacity="0.75" transform="rotate(4.38 179.06 48.54)"/>
<ellipse cx="186.23" cy="50.91" rx="3.76" ry="4" fill-opacity="0.8" transform="rotate(-18.94 186.23 50.91)"/>
<ellipse cx="203.83" cy="53.28" rx="3.77" ry="4.17" fill-opacity="0.87" transform="rotate(-13.1 203.83 53.28)"/>
<ellipse cx="212.42" cy="52.37" rx="4.26" ry="4.16" fill-opacity="0.65" transform="rotate(8.5 212.42 52.37)"/>
<ellipse cx="-0.92" cy="45.28" rx="5.17" ry="3.61" fill-opacity="0.85" transform="rotate(8.78 -0.92 45.28)"/>
<ellipse cx="8.27" cy="42.5" rx="4.63" ry="3.53" fill-opacity="0.75" transform="rotate(13 8.27 42.5)"/>
<ellipse cx="15.86" cy="41.53" rx="4.09" ry="3.1" fill-opacity="0.77" transform="rotate(6.89 15.86 41.53)"/>
<ellipse cx="24.33" cy="41.26" rx="4.74" ry="3.93" fill-opacity="0.79" transform="rotate(17.72 24.33 41.26)"/>
<ellipse cx="31.86" cy="40.41" rx="4.69" ry="3.24" fill-opacity="0.93" transform="rotate(19.27 31.86 40.41)"/>
<ellipse cx="41.37" cy="40.87" rx="4.52" ry="2.97" fill-opacity="0.92" transform="rotate(-17.07 41.37 40.87)"/>
<ellipse cx="50.46" cy="42.21" rx="4.64" ry="3.2" fill-opacity="0.88" transform="rotate(-4.33 50.46 42.21)"/>
<ellipse cx="58.32" cy="40.08" rx="4.76" ry="3.09" fill-opacity="0.76" transform="rotate(10.88 58.32 40.08)"/>
<ellipse cx="67.06" cy="40.25" rx="5.08" ry="3.61" fill-opacity="0.93" transform="rotate(12.82 67.06 40.25)"/>
<ellipse cx="73.52" cy="40.18" rx="3.7" ry="3.65" fill-opacity="0.89" transform="rotate(14.79 73.52 40.18)"/>
<ellipse cx="84.09" cy="40.79" rx="4.71" ry="3.68" fill-opacity="0.72" transform="rotate(16.9 84.09 40.79)"/>
<ellipse cx="91.19" cy="39.71" rx="3.93" ry="3.48" fill-opacity="0.89" transform="rotate(15.91 91.19 39.71)"/>
<ellipse cx="99.69" cy="41.29" rx="3.77" ry="3.61" fill-opacity="0.76" transform="rotate(-5.69 99.69 41.29)"/>
<ellipse cx="107.33" cy="40.39" rx="4.42" ry="3.51" fill-opacity="0.69" transform="rotate(-4.27 107.33 40.39)"/>
<ellipse cx="116.55" cy="40.18" rx="4.04" ry="3.07" fill-opacity="0.65" transform="rotate(-14.02 116.55 40.18)"/>
<ellipse cx="125.3" cy="40.08" rx="3.79" ry="3.2" fill-opacity="0.85" transform="rotate(18.83 125.3 40.08)"/>
<ellipse cx="134.59" cy="40.77" rx="4.92" ry="3.53" fill-opacity="0.62" transform="rotate(-12.59 134.59 40.77)"/>
<ellipse cx="141.26" cy="40.52" rx="4.6" ry="3.61" fill-opacity="0.76" transform="rotate(1.9 141.26 40.52)"/>
<ellipse cx="149.79" cy="40.39" rx="4.96" ry="3.93" fill-opacity="0.85" transform="rotate(4.05 149.79 40.39)"/>
<ellipse cx="159.34" cy="41.87" rx="4.4" ry="3.73" fill-opacity="0.88" transform="rotate(12.7 159.34 41.87)"/>
<ellipse cx="177" cy="42.31" rx="4.84" ry="3.06" fill-opacity="0.89" transform="rotate(16.22 177 42.31)"/>
<ellipse cx="183.58" cy="42.05" rx="4.37" ry="3.27" fill-opacity="0.81" transform="rotate(8.89 183.58 42.05)"/>
<ellipse cx="191.63" cy="42.84" rx="5.11" ry="3.67" fill-opacity="0.8" transform="rotate(15.6 191.63 42.84)"/>
<ellipse cx="200.36" cy="45.31" rx="4.44" ry="3.23" fill-opacity="0.88" transform="rotate(-15.48 200.36 45.31)"/>
<ellipse cx="208.93" cy="45.42" rx="5.05" ry="3.65" fill-opacity="0.72" transform="rotate(-10.56 208.93 45.42)"/>
<ellipse cx="2.45" cy="36.65" rx="4.28" ry="3.43" fill-opacity="0.85" transform="rotate(4.49 2.45 36.65)"/>
<ellipse cx="12.44" cy="35.68" rx="5.35" ry="2.84" fill-opacity="0.58" transform="rotate(-15.47 12.44 35.68)"/>
<ellipse cx="20.55" cy="35.37" rx="4.27" ry="2.87" fill-opacity="0.76" transform="rotate(-4.11 20.55 35.37)"/>
<ellipse cx="27.77" cy="35.3" rx="4.26" ry="3.54" fill-opacity="0.81" transform="rotate(-19.88 27.77 35.3)"/>
<ellipse cx="36.61" cy="35.89" rx="5.25" ry="2.98" fill-opacity="0.81" transform="rotate(-15.89 36.61 35.89)"/>
<ellipse cx="46.05" cy="34.15" rx="4.02" ry="3.02" fill-opacity="0.75" transform="rotate(11.56 46.05 34.15)"/>
<ellipse cx="52.56" cy="34.11" rx="5.17" ry="3.46" fill-opacity="0.79" transform="rotate(19.19 52.56 34.11)"/>
<ellipse cx="62.82" cy="34.59" rx="4.11" ry="2.76" fill-opacity="0.63" transform="rotate(-13.9 62.82 34.59)"/>
<ellipse cx="70.07" cy="32" rx="5.28" ry="2.94" fill-opacity="0.64" transform="rotate(-4.97 70.07 32)"/>
<ellipse cx="87.03" cy="34.43" rx="4.19" ry="3.2" fill-opacity="0.87" transform="rotate(12.35 87.03 34.43)"/>
<ellipse cx="95.28" cy="32.82" rx="4.05" ry="3.19" fill-opacity="0.79" transform="rotate(7.98 95.28 32.82)"/>
<ellipse cx="103.26" cy="34.57" rx="5.24" ry="2.69" fill-opacity="0.72" transform="rotate(16.5 103.26 34.57)"/>
<ellipse cx="113.01" cy="33.13" rx="4.31" ry="3.05" fill-opacity="0.86" transform="rotate(-12.19 113.01 33.13)"/>
<ellipse cx="123.04" cy="34.61" rx="4.89" ry="3.34" fill-opacity="0.74" transform="rotate(3.01 123.04 34.61)"/>
<ellipse cx="140.71" cy="33.75" rx="4.57" ry="2.99" fill-opacity="0.88" transform="rotate(3.54 140.71 33.75)"/>
<ellipse cx="148.54" cy="35.7" rx="4.73" ry="3.29" fill-opacity="0.82" transform="rotate(-7.05 148.54 35.7)"/>
<ellipse cx="155.31" cy="34.95" rx="4.74" ry="2.98" fill-opacity="0.66" transform="rotate(-0.61 155.31 34.95)"/>
<ellipse cx="164.15" cy="35.61" rx="5.03" ry="3.41" fill-opacity="0.73" transform="rotate(-11.01 164.15 35.61)"/>
<ellipse cx="173.44" cy="36.24" rx="4.88" ry="3.27" fill-opacity="0.84" transform="rotate(19.59 173.44 36.24)"/>
<ellipse cx="182.43" cy="35.38" rx="5.04" ry="3.51" fill-opacity="0.89" transform="rotate(15.61 182.43 35.38)"/>
<ellipse cx="189.16" cy="38.2" rx="4.22" ry="2.95" fill-opacity="0.76" transform="rotate(-6.05 189.16 38.2)"/>
<ellipse cx="197.97" cy="38.13" rx="4.98" ry="3.4" fill-opacity="0.78" transform="rotate(20 197.97 38.13)"/>
<ellipse cx="208.44" cy="38.3" rx="4.18" ry="2.86" fill-opacity="0.82" transform="rotate(16.27 208.44 38.3)"/>
<ellipse cx="6.26" cy="31.13" rx="5.24" ry="2.36" fill-opacity="0.79" transform="rotate(2.26 6.26 31.13)"/>
<ellipse cx="13.31" cy="29.38" rx="4.18" ry="2.84" fill-opacity="0.83" transform="rotate(-13.61 13.31 29.38)"/>
<ellipse cx="22.39" cy="29.43" rx="4.35" ry="3.14" fill-opacity="0.78" transform="rotate(13.22 22.39 29.43)"/>
<ellipse cx="31.11" cy="28.86" rx="4.3" ry="2.74" fill-opacity="0.61" transform="rotate(-18.68 31.11 28.86)"/>
<ellipse cx="41.27" cy="27.38" rx="4.54" ry="2.89" fill-opacity="0.71" transform="rotate(15.43 41.27 27.38)"/>
<ellipse cx="49.14" cy="28.29" rx="5.49" ry="2.76" fill-opacity="0.63" transform="rotate(-6.9 49.14 28.29)"/>
<ellipse cx="59.79" cy="25.63" rx="5.34" ry="2.99" fill-opacity="0.79" transform="rotate(4.15 59.79 25.63)"/>
<ellipse cx="70.15" cy="26.96" rx="5.6" ry="2.56" fill-opacity="0.82" transform="rotate(-13.17 70.15 26.96)"/>
<ellipse cx="78.55" cy="26.54" rx="4.79" ry="2.67" fill-opacity="0.62" transform="rotate(-7.22 78.55 26.54)"/>
<ellipse cx="88.06" cy="26.78" rx="5.58" ry="3" fill-opacity="0.63" transform="rotate(-3.29 88.06 26.78)"/>
<ellipse cx="98.09" cy="25.48" rx="4.7" ry="2.76" fill-opacity="0.65" transform="rotate(1.64 98.09 25.48)"/>
<ellipse cx="117.75" cy="25.11" rx="5.54" ry="3.06" fill-opacity="0.76" transform="rotate(-8.82 117.75 25.11)"/>
<ellipse cx="128.26" cy="26.03" rx="4.63" ry="2.49" fill-opacity="0.63" transform="rotate(10.43 128.26 26.03)"/>
<ellipse cx="139.2" cy="28.02" rx="4.19" ry="2.8" fill-opacity="0.77" transform="rotate(6.85 139.2 28.02)"/>
<ellipse cx="146.57" cy="27.65" rx="5.81" ry="2.92" fill-opacity="0.71" transform="rotate(9.54 146.57 27.65)"/>
<ellipse cx="156.02" cy="29.41" rx="4.41" ry="2.55" fill-opacity="0.55" transform="rotate(6.01 156.02 29.41)"/>
<ellipse cx="166.17" cy="28.38" rx="4.73" ry="2.93" fill-opacity="0.69" transform="rotate(5.6 166.17 28.38)"/>
<ellipse cx="175.47" cy="29.36" rx="4.64" ry="2.68" fill-opacity="0.71" transform="rotate(-3.05 175.47 29.36)"/>
<ellipse cx="195.09" cy="32.17" rx="4.18" ry="3" fill-opacity="0.8" transform="rotate(15.58 195.09 32.17)"/>
<ellipse cx="204.03" cy="31.6" rx="5.11" ry="2.94" fill-opacity="0.71" transform="rotate(-2.2 204.03 31.6)"/>
<ellipse cx="213.4" cy="33.84" rx="4.95" ry="2.97" fill-opacity="0.84" transform="rotate(-13.07 213.4 33.84)"/>
<ellipse cx="191" cy="88.1" rx="3.24" ry="2.01" fill-opacity="0.1"/>
<ellipse cx="141.59" cy="70.12" rx="3.99" ry="3.04" fill-opacity="0.17"/>
<ellipse cx="156.38" cy="129.5" rx="3.53" ry="1.83" fill-opacity="0.15"/>
<ellipse cx="113.71" cy="83.61" rx="4.37" ry="2.77" fill-opacity="0.1"/>
<ellipse cx="144.13" cy="92.53" rx="4.61" ry="2.29" fill-opacity="0.22"/>
<ellipse cx="200.82" cy="66.23" rx="5.39" ry="2.85" fill-opacity="0.1"/>
<ellipse cx="89.64" cy="132.43" rx="4.19" ry="1.96" fill-opacity="0.12"/>
<ellipse cx="43.28" cy="102.6" rx="5.27" ry="2.29" fill-opacity="0.12"/>
<ellipse cx="121.53" cy="86.46" rx="5.25" ry="2.32" fill-opacity="0.24"/>
<ellipse cx="190.3" cy="132.08" rx="4.79" ry="2.96" fill-opacity="0.13"/>
<ellipse cx="15.4" cy="68.5" rx="5" ry="1.5" fill-opacity="0.66"/>
<ellipse cx="23.9" cy="74.7" rx="8.5" ry="2" fill-opacity="0.8" transform="rotate(-4 23.9 74.7)"/>
<ellipse cx="92" cy="68.5" rx="3.5" ry="1.5" fill-opacity="0.7"/>
<ellipse cx="3.8" cy="84.7" rx="3" ry="2" fill-opacity="0.3"/>
<ellipse cx="55.6" cy="90.1" rx="4" ry="1.5" fill-opacity="0.66" transform="rotate(-20 55.6 90.1)"/>
<ellipse cx="66.5" cy="93.7" rx="4" ry="1.5" fill-opacity="0.43"/>
<ellipse cx="12.3" cy="97.9" rx="2.5" ry="2" fill-opacity="0.3"/>
<ellipse cx="39.4" cy="97.9" rx="3" ry="2" fill-opacity="0.25"/>
<ellipse cx="102.1" cy="104.8" rx="3" ry="2" fill-opacity="0.52"/>
<ellipse cx="152.3" cy="76.7" rx="7.5" ry="1.75" fill-opacity="0.84" transform="rotate(-3 152.3 76.7)"/>
<ellipse cx="177.1" cy="77.3" rx="5.5" ry="2" fill-opacity="0.84"/>
<ellipse cx="126.8" cy="86" rx="6.5" ry="2" fill-opacity="0.89" transform="rotate(15 126.8 86)"/>
<ellipse cx="153.9" cy="92.1" rx="4" ry="1.5" fill-opacity="0.84" transform="rotate(10 153.9 92.1)"/>
<ellipse cx="204.2" cy="92.5" rx="4.5" ry="1.75" fill-opacity="0.84"/>
<ellipse cx="178.7" cy="103" rx="7.5" ry="2" fill-opacity="0.89" transform="rotate(5 178.7 103)"/>
<ellipse cx="107.4" cy="146.6" rx="2.5" ry="2" fill-opacity="0.61"/>
<g filter="url(#bl4)"><ellipse cx="55.6" cy="137.3" rx="10" ry="4.5" fill-opacity="0.77"/><ellipse cx="12.3" cy="145.1" rx="6.5" ry="4.5" fill-opacity="0.6"/><ellipse cx="37.1" cy="149" rx="5" ry="5" fill-opacity="0.5"/><ellipse cx="14.6" cy="154.4" rx="6.5" ry="2.5" fill-opacity="0.55"/><ellipse cx="57.9" cy="148.2" rx="6" ry="4.5" fill-opacity="0.55"/><ellipse cx="81.9" cy="149" rx="6.5" ry="2.5" fill-opacity="0.88"/><ellipse cx="97.4" cy="147.4" rx="6.5" ry="3" fill-opacity="0.88"/><ellipse cx="131.4" cy="109.5" rx="5" ry="3.5" fill-opacity="0.5"/><ellipse cx="119.1" cy="119.5" rx="5" ry="4" fill-opacity="0.77"/><ellipse cx="138.4" cy="140.4" rx="5" ry="4.5" fill-opacity="0.44"/><ellipse cx="120.6" cy="147.4" rx="6.5" ry="2.5" fill-opacity="0.82"/><ellipse cx="163.2" cy="144.3" rx="8" ry="3.5" fill-opacity="0.66"/><ellipse cx="181.8" cy="137.4" rx="5" ry="4.5" fill-opacity="0.39"/><ellipse cx="203.4" cy="140.4" rx="5" ry="5.5" fill-opacity="0.6"/></g>
</g></g></g>
<g transform="translate(19.6 235)"><rect x="0" y="0" width="210.9" height="211.1" fill="#231f20"/>
<g clip-path="url(#cp3)"><g filter="url(#bl)" fill="url(#ng)">
<polygon points="0,39 8.79,38.95 17.58,38.91 26.38,38.89 35.17,38.89 43.96,38.9 52.75,38.94 61.54,38.99 70.33,39.06 79.12,39.14 87.92,39.24 96.71,39.36 105.5,39.5 114.29,39.65 123.08,39.83 131.88,40.02 140.67,40.22 149.46,40.45 158.25,40.69 167.04,40.95 175.83,41.22 184.62,41.52 193.42,41.83 202.21,42.15 211,42.5 211,58.5 202.21,57.79 193.42,57.12 184.62,56.48 175.83,55.89 167.04,55.33 158.25,54.81 149.46,54.33 140.67,53.89 131.88,53.48 123.08,53.12 114.29,52.79 105.5,52.5 96.71,52.25 87.92,52.03 79.12,51.86 70.33,51.72 61.54,51.62 52.75,51.56 43.96,51.54 35.17,51.56 26.38,51.61 17.58,51.7 8.79,51.83 0,52" fill="rgb(52,52,52)" filter="url(#bl2)"/>
<ellipse cx="2.08" cy="49.9" rx="3.52" ry="2.79" fill-opacity="0.76" transform="rotate(-0.98 2.08 49.9)"/>
<ellipse cx="10.6" cy="48.9" rx="4.52" ry="3.29" fill-opacity="0.73" transform="rotate(-18.68 10.6 48.9)"/>
<ellipse cx="17.03" cy="50.25" rx="3.49" ry="2.84" fill-opacity="0.71" transform="rotate(-18.75 17.03 50.25)"/>
<ellipse cx="24.87" cy="51.33" rx="4.72" ry="2.72" fill-opacity="0.72" transform="rotate(-2.91 24.87 51.33)"/>
<ellipse cx="31.59" cy="50.86" rx="3.68" ry="2.61" fill-opacity="0.83" transform="rotate(9.69 31.59 50.86)"/>
<ellipse cx="39.36" cy="48.97" rx="4.4" ry="2.63" fill-opacity="0.7" transform="rotate(0.44 39.36 48.97)"/>
<ellipse cx="47.27" cy="48.71" rx="4.22" ry="2.55" fill-opacity="0.76" transform="rotate(-2.73 47.27 48.71)"/>
<ellipse cx="55.91" cy="50.7" rx="4.3" ry="2.61" fill-opacity="0.81" transform="rotate(-19.91 55.91 50.7)"/>
<ellipse cx="64.59" cy="49.97" rx="3.82" ry="2.94" fill-opacity="0.88" transform="rotate(12.16 64.59 49.97)"/>
<ellipse cx="72.17" cy="50.85" rx="4" ry="2.86" fill-opacity="0.84" transform="rotate(14.96 72.17 50.85)"/>
<ellipse cx="80.87" cy="49.69" rx="3.57" ry="2.82" fill-opacity="0.73" transform="rotate(-0.32 80.87 49.69)"/>
<ellipse cx="87.51" cy="51.75" rx="3.75" ry="2.83" fill-opacity="0.86" transform="rotate(-17.22 87.51 51.75)"/>
<ellipse cx="95.61" cy="50.53" rx="4.9" ry="2.85" fill-opacity="0.83" transform="rotate(4.36 95.61 50.53)"/>
<ellipse cx="102.75" cy="50.44" rx="4.23" ry="2.65" fill-opacity="0.73" transform="rotate(-15.98 102.75 50.44)"/>
<ellipse cx="109.67" cy="51.33" rx="3.54" ry="2.91" fill-opacity="0.73" transform="rotate(7.04 109.67 51.33)"/>
<ellipse cx="115.36" cy="52.69" rx="3.92" ry="2.71" fill-opacity="0.8" transform="rotate(-10.4 115.36 52.69)"/>
<ellipse cx="123.65" cy="52.58" rx="4.25" ry="3.28" fill-opacity="0.67" transform="rotate(-7.35 123.65 52.58)"/>
<ellipse cx="131.61" cy="50.58" rx="4.06" ry="3.22" fill-opacity="0.78" transform="rotate(-7.09 131.61 50.58)"/>
<ellipse cx="139.33" cy="51.92" rx="3.55" ry="2.85" fill-opacity="0.82" transform="rotate(11.56 139.33 51.92)"/>
<ellipse cx="147.31" cy="53.06" rx="3.78" ry="2.56" fill-opacity="0.86" transform="rotate(-11.59 147.31 53.06)"/>
<ellipse cx="155.19" cy="51.73" rx="3.98" ry="3.37" fill-opacity="0.79" transform="rotate(17.51 155.19 51.73)"/>
<ellipse cx="162.15" cy="52.65" rx="4.7" ry="2.91" fill-opacity="0.72" transform="rotate(11.72 162.15 52.65)"/>
<ellipse cx="171.02" cy="54.26" rx="4.73" ry="3" fill-opacity="0.74" transform="rotate(1.41 171.02 54.26)"/>
<ellipse cx="178.82" cy="55.41" rx="4.11" ry="3.29" fill-opacity="0.75" transform="rotate(-0.85 178.82 55.41)"/>
<ellipse cx="187.28" cy="55.71" rx="4.78" ry="3.32" fill-opacity="0.75" transform="rotate(13.84 187.28 55.71)"/>
<ellipse cx="202.8" cy="56.08" rx="4.64" ry="3.3" fill-opacity="0.82" transform="rotate(10.69 202.8 56.08)"/>
<ellipse cx="210.49" cy="55.67" rx="4.76" ry="2.73" fill-opacity="0.86" transform="rotate(-4.56 210.49 55.67)"/>
<ellipse cx="6.11" cy="43.45" rx="4.65" ry="2.78" fill-opacity="0.56" transform="rotate(9.91 6.11 43.45)"/>
<ellipse cx="14.54" cy="44.49" rx="4.95" ry="2.88" fill-opacity="0.55" transform="rotate(-6.47 14.54 44.49)"/>
<ellipse cx="22.16" cy="44" rx="4.91" ry="3.03" fill-opacity="0.61" transform="rotate(5.01 22.16 44)"/>
<ellipse cx="31.14" cy="43.86" rx="5.31" ry="2.95" fill-opacity="0.67" transform="rotate(-9.92 31.14 43.86)"/>
<ellipse cx="40.55" cy="42.89" rx="5.01" ry="2.39" fill-opacity="0.52" transform="rotate(13.95 40.55 42.89)"/>
<ellipse cx="46.94" cy="45.66" rx="4.49" ry="2.88" fill-opacity="0.67" transform="rotate(-4.86 46.94 45.66)"/>
<ellipse cx="54.52" cy="44.25" rx="4.6" ry="3.03" fill-opacity="0.64" transform="rotate(-0.52 54.52 44.25)"/>
<ellipse cx="63.9" cy="43" rx="4.12" ry="2.94" fill-opacity="0.53" transform="rotate(14.52 63.9 43)"/>
<ellipse cx="72.24" cy="44.6" rx="4.84" ry="2.39" fill-opacity="0.59" transform="rotate(-11.62 72.24 44.6)"/>
<ellipse cx="81.1" cy="45.83" rx="4.09" ry="2.77" fill-opacity="0.5" transform="rotate(-17.22 81.1 45.83)"/>
<ellipse cx="89.03" cy="45.46" rx="4.58" ry="2.58" fill-opacity="0.56" transform="rotate(-2.54 89.03 45.46)"/>
<ellipse cx="98.29" cy="45.42" rx="4.49" ry="2.37" fill-opacity="0.64" transform="rotate(-8.45 98.29 45.42)"/>
<ellipse cx="104.82" cy="45" rx="4.21" ry="2.59" fill-opacity="0.49" transform="rotate(-12.15 104.82 45)"/>
<ellipse cx="114.75" cy="44.79" rx="4.78" ry="2.6" fill-opacity="0.58" transform="rotate(-11.06 114.75 44.79)"/>
<ellipse cx="120.85" cy="46.73" rx="4.3" ry="2.92" fill-opacity="0.66" transform="rotate(-15.01 120.85 46.73)"/>
<ellipse cx="128.31" cy="45.3" rx="5.16" ry="2.27" fill-opacity="0.62" transform="rotate(10.9 128.31 45.3)"/>
<ellipse cx="137.74" cy="46.87" rx="3.81" ry="2.95" fill-opacity="0.49" transform="rotate(0.35 137.74 46.87)"/>
<ellipse cx="145.93" cy="45.73" rx="4.02" ry="2.73" fill-opacity="0.64" transform="rotate(-7.93 145.93 45.73)"/>
<ellipse cx="171.57" cy="48.92" rx="4.53" ry="2.73" fill-opacity="0.55" transform="rotate(-2.45 171.57 48.92)"/>
<ellipse cx="178.43" cy="46.52" rx="4.34" ry="2.97" fill-opacity="0.56" transform="rotate(17.42 178.43 46.52)"/>
<ellipse cx="187.39" cy="49.01" rx="4" ry="2.5" fill-opacity="0.64" transform="rotate(-1.77 187.39 49.01)"/>
<ellipse cx="194.48" cy="48.89" rx="4.29" ry="2.27" fill-opacity="0.66" transform="rotate(-12.59 194.48 48.89)"/>
<ellipse cx="202.85" cy="48.94" rx="5.34" ry="2.81" fill-opacity="0.65" transform="rotate(-8.72 202.85 48.94)"/>
<ellipse cx="210.75" cy="49.13" rx="4.38" ry="3.01" fill-opacity="0.6" transform="rotate(9.91 210.75 49.13)"/>
<ellipse cx="16.39" cy="39.83" rx="4.78" ry="2.18" fill-opacity="0.33" transform="rotate(15.73 16.39 39.83)"/>
<ellipse cx="25.94" cy="39.2" rx="5.04" ry="2.4" fill-opacity="0.41" transform="rotate(15.54 25.94 39.2)"/>
<ellipse cx="34.2" cy="38.47" rx="5.07" ry="2.67" fill-opacity="0.36" transform="rotate(18.84 34.2 38.47)"/>
<ellipse cx="41.87" cy="39.13" rx="4.75" ry="2.33" fill-opacity="0.41" transform="rotate(1.68 41.87 39.13)"/>
<ellipse cx="52.53" cy="38.19" rx="5.79" ry="2.6" fill-opacity="0.34" transform="rotate(13.09 52.53 38.19)"/>
<ellipse cx="60.53" cy="37.95" rx="5.37" ry="2.02" fill-opacity="0.42" transform="rotate(2.89 60.53 37.95)"/>
<ellipse cx="71.25" cy="40.11" rx="4.48" ry="2.46" fill-opacity="0.36" transform="rotate(-14.89 71.25 40.11)"/>
<ellipse cx="81.01" cy="40.1" rx="4.85" ry="2.52" fill-opacity="0.41" transform="rotate(9.93 81.01 40.1)"/>
<ellipse cx="90.72" cy="38.21" rx="4.96" ry="2.57" fill-opacity="0.43" transform="rotate(13.27 90.72 38.21)"/>
<ellipse cx="97.71" cy="38.78" rx="4.9" ry="2.1" fill-opacity="0.44" transform="rotate(-14.03 97.71 38.78)"/>
<ellipse cx="106.72" cy="39.95" rx="4.31" ry="2.56" fill-opacity="0.39" transform="rotate(17.7 106.72 39.95)"/>
<ellipse cx="116.28" cy="38.24" rx="5.65" ry="2.63" fill-opacity="0.36" transform="rotate(15.61 116.28 38.24)"/>
<ellipse cx="134.72" cy="40.96" rx="5.36" ry="2.23" fill-opacity="0.42" transform="rotate(-14.55 134.72 40.96)"/>
<ellipse cx="143.01" cy="41.91" rx="4.48" ry="2.04" fill-opacity="0.37" transform="rotate(6.78 143.01 41.91)"/>
<ellipse cx="152.16" cy="40.91" rx="5.46" ry="2.35" fill-opacity="0.45" transform="rotate(-2.77 152.16 40.91)"/>
<ellipse cx="161.56" cy="40.61" rx="4.77" ry="2.62" fill-opacity="0.39" transform="rotate(-11.85 161.56 40.61)"/>
<ellipse cx="169.21" cy="41.74" rx="4.94" ry="2.39" fill-opacity="0.45" transform="rotate(-5.97 169.21 41.74)"/>
<ellipse cx="178.6" cy="41.48" rx="4.53" ry="2.31" fill-opacity="0.43" transform="rotate(19.49 178.6 41.48)"/>
<ellipse cx="188.8" cy="42.09" rx="4.25" ry="2.06" fill-opacity="0.45" transform="rotate(-12.14 188.8 42.09)"/>
<ellipse cx="197.55" cy="42.72" rx="4.97" ry="2.21" fill-opacity="0.4" transform="rotate(-10.59 197.55 42.72)"/>
<ellipse cx="204.98" cy="42.3" rx="5.1" ry="2.43" fill-opacity="0.45" transform="rotate(3.1 204.98 42.3)"/>
<ellipse cx="185.39" cy="84.46" rx="3.53" ry="1.87" fill-opacity="0.17"/>
<ellipse cx="22.98" cy="64.09" rx="3.64" ry="2.08" fill-opacity="0.12"/>
<ellipse cx="80.45" cy="57.11" rx="5.48" ry="1.91" fill-opacity="0.12"/>
<ellipse cx="65.25" cy="95.14" rx="3.47" ry="1.88" fill-opacity="0.1"/>
<ellipse cx="2.12" cy="71.97" rx="4.29" ry="2.21" fill-opacity="0.16"/>
<ellipse cx="119.67" cy="92.65" rx="4.55" ry="1.93" fill-opacity="0.17"/>
<ellipse cx="201.8" cy="90.53" rx="3.63" ry="1.6" fill-opacity="0.15"/>
<ellipse cx="35.05" cy="63.48" rx="3.43" ry="2.26" fill-opacity="0.19"/>
<ellipse cx="8.7" cy="56.5" rx="4.5" ry="1.5" fill-opacity="0.61"/>
<ellipse cx="43.5" cy="61.1" rx="4" ry="1.75" fill-opacity="0.8"/>
<ellipse cx="5.6" cy="69.8" rx="5.5" ry="1.5" fill-opacity="0.84"/>
<ellipse cx="22.6" cy="78.6" rx="9" ry="2" fill-opacity="0.66"/>
<ellipse cx="52" cy="82.5" rx="4.5" ry="1.5" fill-opacity="0.61"/>
<ellipse cx="69.1" cy="84.1" rx="4" ry="1.5" fill-opacity="0.3"/>
<ellipse cx="24.2" cy="108" rx="8" ry="2" fill-opacity="0.25"/>
<ellipse cx="7.1" cy="112.7" rx="7" ry="1.5" fill-opacity="0.16"/>
<ellipse cx="98.5" cy="55.4" rx="3.5" ry="1.5" fill-opacity="0.75"/>
<ellipse cx="103.1" cy="61.1" rx="2.5" ry="1.5" fill-opacity="0.75"/>
<ellipse cx="108.5" cy="61.6" rx="4" ry="1.75" fill-opacity="0.84"/>
<ellipse cx="146.4" cy="58.5" rx="4.5" ry="2" fill-opacity="0.8" transform="rotate(-10 146.4 58.5)"/>
<ellipse cx="134.8" cy="77.1" rx="4" ry="2" fill-opacity="0.75"/>
<ellipse cx="199.8" cy="74" rx="5.5" ry="1.5" fill-opacity="0.7" transform="rotate(5 199.8 74)"/>
<ellipse cx="151.8" cy="82.8" rx="3" ry="2" fill-opacity="0.34"/>
<ellipse cx="206.8" cy="101.1" rx="2.5" ry="2" fill-opacity="0.52"/>
<g filter="url(#bl4)"><ellipse cx="52" cy="87.9" rx="9.5" ry="2.5" fill-opacity="0.66"/><ellipse cx="89.2" cy="87.9" rx="7" ry="5.5" fill-opacity="0.5"/><ellipse cx="45.1" cy="100.3" rx="7" ry="3.5" fill-opacity="0.66"/><ellipse cx="78.4" cy="102.6" rx="5" ry="2.5" fill-opacity="0.28"/><ellipse cx="110" cy="83.3" rx="4" ry="3" fill-opacity="0.28"/><ellipse cx="162.7" cy="90.6" rx="10" ry="3" fill-opacity="0.55"/><ellipse cx="120.9" cy="97.2" rx="7" ry="3.5" fill-opacity="0.71"/><ellipse cx="110.8" cy="101.1" rx="5" ry="4" fill-opacity="0.55"/><ellipse cx="144.1" cy="103.4" rx="5" ry="2.5" fill-opacity="0.39"/><ellipse cx="178.2" cy="108" rx="6.5" ry="3" fill-opacity="0.33"/><ellipse cx="202.9" cy="108" rx="5" ry="3.5" fill-opacity="0.5"/></g>
</g></g></g>
<g transform="translate(232.3 235)"><rect x="0" y="0" width="211" height="211.1" fill="#231f20"/>
<g clip-path="url(#cp4)"><g filter="url(#bl)" fill="url(#ng)">
<polygon points="0,51.5 8.79,50.71 17.58,50 26.38,49.37 35.17,48.81 43.96,48.34 52.75,47.94 61.54,47.62 70.33,47.38 79.12,47.22 87.92,47.13 96.71,47.13 105.5,47.2 114.29,47.35 123.08,47.58 131.88,47.89 140.67,48.28 149.46,48.74 158.25,49.29 167.04,49.91 175.83,50.61 184.62,51.39 193.42,52.25 202.21,53.19 211,54.2 211,61.8 202.21,60.68 193.42,59.65 184.62,58.7 175.83,57.83 167.04,57.06 158.25,56.36 149.46,55.76 140.67,55.23 131.88,54.8 123.08,54.45 114.29,54.18 105.5,54 96.71,53.91 87.92,53.9 79.12,53.97 70.33,54.13 61.54,54.38 52.75,54.71 43.96,55.13 35.17,55.63 26.38,56.22 17.58,56.9 8.79,57.66 0,58.5" fill="rgb(55,55,55)" filter="url(#bl2)"/>
<ellipse cx="1.4" cy="58.36" rx="3.75" ry="3.28" fill-opacity="0.84" transform="rotate(13.8 1.4 58.36)"/>
<ellipse cx="9.22" cy="56.64" rx="4.69" ry="2.86" fill-opacity="0.84" transform="rotate(0.22 9.22 56.64)"/>
<ellipse cx="17.7" cy="54.3" rx="3.94" ry="2.8" fill-opacity="0.69" transform="rotate(-15.29 17.7 54.3)"/>
<ellipse cx="24.15" cy="56.4" rx="3.83" ry="2.55" fill-opacity="0.92" transform="rotate(15.27 24.15 56.4)"/>
<ellipse cx="32.01" cy="55.81" rx="4.64" ry="2.97" fill-opacity="0.86" transform="rotate(8.74 32.01 55.81)"/>
<ellipse cx="39.93" cy="53.06" rx="3.51" ry="2.67" fill-opacity="0.78" transform="rotate(16.74 39.93 53.06)"/>
<ellipse cx="47.32" cy="53.66" rx="4.04" ry="3.18" fill-opacity="0.69" transform="rotate(-0.4 47.32 53.66)"/>
<ellipse cx="55.85" cy="54.47" rx="4.86" ry="2.96" fill-opacity="0.86" transform="rotate(-10.05 55.85 54.47)"/>
<ellipse cx="64.68" cy="53.6" rx="3.56" ry="2.73" fill-opacity="0.74" transform="rotate(-15.59 64.68 53.6)"/>
<ellipse cx="71.67" cy="51.31" rx="3.96" ry="3.32" fill-opacity="0.88" transform="rotate(10.91 71.67 51.31)"/>
<ellipse cx="86.24" cy="53.03" rx="3.76" ry="3.15" fill-opacity="0.72" transform="rotate(6.96 86.24 53.03)"/>
<ellipse cx="95.04" cy="52.77" rx="4.91" ry="3.14" fill-opacity="0.65" transform="rotate(18.52 95.04 52.77)"/>
<ellipse cx="102.42" cy="52.29" rx="3.78" ry="3.26" fill-opacity="0.91" transform="rotate(18.87 102.42 52.29)"/>
<ellipse cx="111.05" cy="52.78" rx="3.82" ry="2.88" fill-opacity="0.84" transform="rotate(9.82 111.05 52.78)"/>
<ellipse cx="117.71" cy="52.27" rx="4.37" ry="3.33" fill-opacity="0.89" transform="rotate(-19.56 117.71 52.27)"/>
<ellipse cx="124.86" cy="52.43" rx="4.65" ry="2.55" fill-opacity="0.89" transform="rotate(1.45 124.86 52.43)"/>
<ellipse cx="132.15" cy="53.87" rx="4.36" ry="2.75" fill-opacity="0.71" transform="rotate(-3.63 132.15 53.87)"/>
<ellipse cx="139.74" cy="54.09" rx="4.8" ry="3.09" fill-opacity="0.73" transform="rotate(14.03 139.74 54.09)"/>
<ellipse cx="148.74" cy="54.52" rx="4.14" ry="3.07" fill-opacity="0.86" transform="rotate(0.74 148.74 54.52)"/>
<ellipse cx="155.44" cy="54.21" rx="3.62" ry="2.81" fill-opacity="0.89" transform="rotate(-16.16 155.44 54.21)"/>
<ellipse cx="161.73" cy="55.54" rx="4.17" ry="3.42" fill-opacity="0.8" transform="rotate(15.82 161.73 55.54)"/>
<ellipse cx="171.28" cy="57.23" rx="4.83" ry="2.58" fill-opacity="0.72" transform="rotate(9.34 171.28 57.23)"/>
<ellipse cx="180.13" cy="56.56" rx="4.86" ry="2.81" fill-opacity="0.83" transform="rotate(3.22 180.13 56.56)"/>
<ellipse cx="186.35" cy="58.44" rx="3.79" ry="3.23" fill-opacity="0.73" transform="rotate(14.3 186.35 58.44)"/>
<ellipse cx="195.55" cy="56.91" rx="4.3" ry="3.17" fill-opacity="0.81" transform="rotate(2.6 195.55 56.91)"/>
<ellipse cx="204.03" cy="58.94" rx="4.15" ry="3.27" fill-opacity="0.9" transform="rotate(-1.47 204.03 58.94)"/>
<ellipse cx="211.86" cy="58.56" rx="4.06" ry="2.88" fill-opacity="0.88" transform="rotate(19.81 211.86 58.56)"/>
<ellipse cx="2.52" cy="50.28" rx="4.66" ry="2.79" fill-opacity="0.6" transform="rotate(-14.77 2.52 50.28)"/>
<ellipse cx="12.05" cy="49.41" rx="4.96" ry="2.65" fill-opacity="0.77" transform="rotate(-11.97 12.05 49.41)"/>
<ellipse cx="22.01" cy="48.33" rx="5.33" ry="2.55" fill-opacity="0.75" transform="rotate(-19.06 22.01 48.33)"/>
<ellipse cx="38.93" cy="48.58" rx="4.64" ry="2.47" fill-opacity="0.64" transform="rotate(11.6 38.93 48.58)"/>
<ellipse cx="47.38" cy="47.76" rx="4.07" ry="2.65" fill-opacity="0.77" transform="rotate(-10.28 47.38 47.76)"/>
<ellipse cx="62.64" cy="46.62" rx="3.82" ry="2.86" fill-opacity="0.59" transform="rotate(-16.85 62.64 46.62)"/>
<ellipse cx="73.11" cy="46.08" rx="4.88" ry="2.59" fill-opacity="0.64" transform="rotate(-1.11 73.11 46.08)"/>
<ellipse cx="82.05" cy="48.15" rx="4.49" ry="2.66" fill-opacity="0.76" transform="rotate(12.7 82.05 48.15)"/>
<ellipse cx="90.34" cy="46.97" rx="4.52" ry="2.9" fill-opacity="0.64" transform="rotate(17.97 90.34 46.97)"/>
<ellipse cx="100.65" cy="47.68" rx="4.49" ry="2.88" fill-opacity="0.64" transform="rotate(9.99 100.65 47.68)"/>
<ellipse cx="110.02" cy="46.99" rx="4.48" ry="2.5" fill-opacity="0.69" transform="rotate(18 110.02 46.99)"/>
<ellipse cx="120.31" cy="45.85" rx="4.08" ry="2.56" fill-opacity="0.54" transform="rotate(7.42 120.31 45.85)"/>
<ellipse cx="127.46" cy="46.67" rx="4.33" ry="2.59" fill-opacity="0.63" transform="rotate(-11.44 127.46 46.67)"/>
<ellipse cx="138.17" cy="48.65" rx="4.73" ry="2.23" fill-opacity="0.56" transform="rotate(4.5 138.17 48.65)"/>
<ellipse cx="145.4" cy="48.58" rx="5.09" ry="2.44" fill-opacity="0.62" transform="rotate(5.22 145.4 48.58)"/>
<ellipse cx="154.18" cy="50.38" rx="5.08" ry="2.88" fill-opacity="0.57" transform="rotate(0.55 154.18 50.38)"/>
<ellipse cx="163.76" cy="50.46" rx="4.33" ry="2.27" fill-opacity="0.58" transform="rotate(15.84 163.76 50.46)"/>
<ellipse cx="171.78" cy="51.7" rx="5.17" ry="2.66" fill-opacity="0.64" transform="rotate(-17.33 171.78 51.7)"/>
<ellipse cx="178.47" cy="51.01" rx="4.52" ry="2.4" fill-opacity="0.76" transform="rotate(-11.21 178.47 51.01)"/>
<ellipse cx="188.5" cy="52.37" rx="4.89" ry="2.57" fill-opacity="0.76" transform="rotate(13.67 188.5 52.37)"/>
<ellipse cx="198.47" cy="54.04" rx="4.93" ry="2.77" fill-opacity="0.69" transform="rotate(7.43 198.47 54.04)"/>
<ellipse cx="207.37" cy="55.17" rx="4.98" ry="2.28" fill-opacity="0.54" transform="rotate(-3.65 207.37 55.17)"/>
<ellipse cx="114.51" cy="103.55" rx="5" ry="1.39" fill-opacity="0.19"/>
<ellipse cx="0.43" cy="100.37" rx="3.3" ry="1.48" fill-opacity="0.2"/>
<ellipse cx="22.51" cy="98.6" rx="3.87" ry="1.38" fill-opacity="0.15"/>
<ellipse cx="33" cy="70.05" rx="3.74" ry="1.36" fill-opacity="0.11"/>
<ellipse cx="71.33" cy="65.97" rx="5.81" ry="0.9" fill-opacity="0.21"/>
<ellipse cx="68.3" cy="80.71" rx="4.95" ry="1.52" fill-opacity="0.12"/>
<ellipse cx="102.33" cy="76.44" rx="4.43" ry="0.99" fill-opacity="0.17"/>
<ellipse cx="104.15" cy="66.04" rx="5.61" ry="1.35" fill-opacity="0.11"/>
<path d="M0 104 Q105 102 211 111" stroke="#fff" stroke-opacity="0.12" stroke-width="1.5" fill="none"/>
<ellipse cx="8.2" cy="67.4" rx="5" ry="1.5" fill-opacity="0.75" transform="rotate(-10 8.2 67.4)"/>
<ellipse cx="18.3" cy="64.3" rx="4.5" ry="1.5" fill-opacity="0.75"/>
<ellipse cx="35.3" cy="62.4" rx="3.5" ry="1.5" fill-opacity="0.75" transform="rotate(10 35.3 62.4)"/>
<ellipse cx="47.7" cy="65.5" rx="4" ry="1.5" fill-opacity="0.7"/>
<ellipse cx="40.7" cy="79" rx="5" ry="1.5" fill-opacity="0.61"/>
<ellipse cx="63.9" cy="78.5" rx="7.5" ry="1.5" fill-opacity="0.75" transform="rotate(-3 63.9 78.5)"/>
<ellipse cx="75.6" cy="82.6" rx="7.5" ry="1.5" fill-opacity="0.66" transform="rotate(3 75.6 82.6)"/>
<ellipse cx="25.2" cy="93.7" rx="4.5" ry="1.25" fill-opacity="0.52"/>
<ellipse cx="5.9" cy="98.3" rx="5.5" ry="1.25" fill-opacity="0.75" transform="rotate(-5 5.9 98.3)"/>
<ellipse cx="4.3" cy="106.9" rx="4.5" ry="1.25" fill-opacity="0.66"/>
<ellipse cx="46.9" cy="104.2" rx="9" ry="1" fill-opacity="0.7" transform="rotate(-2 46.9 104.2)"/>
<ellipse cx="79.4" cy="94.5" rx="2" ry="1.5" fill-opacity="0.52"/>
<ellipse cx="99.5" cy="92.2" rx="3" ry="1.25" fill-opacity="0.7"/>
<ellipse cx="81.7" cy="102.2" rx="9" ry="1" fill-opacity="0.2"/>
<ellipse cx="120.4" cy="61.2" rx="7" ry="2" fill-opacity="0.7"/>
<ellipse cx="151.4" cy="64" rx="3" ry="1.25" fill-opacity="0.52"/>
<ellipse cx="156.8" cy="74.3" rx="7" ry="1.75" fill-opacity="0.7"/>
<ellipse cx="190.8" cy="70.5" rx="4" ry="1.5" fill-opacity="0.66" transform="rotate(10 190.8 70.5)"/>
<ellipse cx="140.5" cy="84.1" rx="8.5" ry="1.5" fill-opacity="0.7" transform="rotate(3 140.5 84.1)"/>
<ellipse cx="143.6" cy="88.7" rx="8" ry="1.5" fill-opacity="0.66"/>
<ellipse cx="120.4" cy="95.2" rx="6.5" ry="1.5" fill-opacity="0.66" transform="rotate(-3 120.4 95.2)"/>
<ellipse cx="157.6" cy="98.8" rx="8" ry="1.5" fill-opacity="0.52" transform="rotate(2 157.6 98.8)"/>
<ellipse cx="193.9" cy="94.9" rx="8" ry="1.5" fill-opacity="0.66" transform="rotate(3 193.9 94.9)"/>
<ellipse cx="207.1" cy="88.7" rx="2.5" ry="2" fill-opacity="0.43"/>
<ellipse cx="118.1" cy="103.8" rx="8" ry="1.25" fill-opacity="0.66"/>
<ellipse cx="204.8" cy="106.9" rx="4" ry="1.25" fill-opacity="0.48"/>
<g filter="url(#bl4)"></g>
</g></g></g>
<g transform="translate(445.1 235)"><rect x="0" y="0" width="211.3" height="211.1" fill="#231f20"/>
<g clip-path="url(#cp5)"><g filter="url(#bl)" fill="url(#ng)">
<polygon points="0,39.9 8.79,39.4 17.58,38.95 26.38,38.54 35.17,38.18 43.96,37.85 52.75,37.58 61.54,37.34 70.33,37.14 79.12,36.99 87.92,36.89 96.71,36.82 105.5,36.8 114.29,36.82 123.08,36.89 131.88,36.99 140.67,37.14 149.46,37.34 158.25,37.57 167.04,37.85 175.83,38.18 184.62,38.54 193.42,38.95 202.21,39.4 211,39.9 211,60.7 202.21,60.07 193.42,59.49 184.62,58.94 175.83,58.44 167.04,57.99 158.25,57.58 149.46,57.2 140.67,56.88 131.88,56.59 123.08,56.35 114.29,56.15 105.5,56 96.71,55.89 87.92,55.82 79.12,55.79 70.33,55.81 61.54,55.87 52.75,55.98 43.96,56.12 35.17,56.31 26.38,56.54 17.58,56.82 8.79,57.14 0,57.5" fill="rgb(70,70,70)" filter="url(#bl2)"/>
<ellipse cx="2.17" cy="57.23" rx="4.54" ry="3.89" fill-opacity="0.78" transform="rotate(6.47 2.17 57.23)"/>
<ellipse cx="10.27" cy="55.85" rx="4.1" ry="4.16" fill-opacity="0.75" transform="rotate(-18.24 10.27 55.85)"/>
<ellipse cx="17.52" cy="54.79" rx="3.39" ry="4.03" fill-opacity="0.58" transform="rotate(14.96 17.52 54.79)"/>
<ellipse cx="26.23" cy="54.7" rx="3.94" ry="3.78" fill-opacity="0.77" transform="rotate(17.21 26.23 54.7)"/>
<ellipse cx="33.75" cy="55.92" rx="3.66" ry="4.45" fill-opacity="0.69" transform="rotate(3.86 33.75 55.92)"/>
<ellipse cx="42.2" cy="55.64" rx="4.28" ry="4.45" fill-opacity="0.69" transform="rotate(-12.42 42.2 55.64)"/>
<ellipse cx="50.56" cy="54.54" rx="3.92" ry="4.02" fill-opacity="0.7" transform="rotate(-18.31 50.56 54.54)"/>
<ellipse cx="57.43" cy="52.93" rx="3.68" ry="3.73" fill-opacity="0.65" transform="rotate(-8.26 57.43 52.93)"/>
<ellipse cx="64.49" cy="54.11" rx="3.8" ry="3.76" fill-opacity="0.8" transform="rotate(17.36 64.49 54.11)"/>
<ellipse cx="72.95" cy="53.3" rx="4.12" ry="4.6" fill-opacity="0.57" transform="rotate(-4.44 72.95 53.3)"/>
<ellipse cx="81.48" cy="53.73" rx="4.44" ry="3.59" fill-opacity="0.77" transform="rotate(11.1 81.48 53.73)"/>
<ellipse cx="87.47" cy="52.69" rx="4.52" ry="3.92" fill-opacity="0.71" transform="rotate(5.08 87.47 52.69)"/>
<ellipse cx="95.33" cy="54.12" rx="4.14" ry="3.67" fill-opacity="0.77" transform="rotate(8.6 95.33 54.12)"/>
<ellipse cx="104.17" cy="53.69" rx="3.32" ry="4.09" fill-opacity="0.81" transform="rotate(15.53 104.17 53.69)"/>
<ellipse cx="112.8" cy="53.3" rx="3.37" ry="4.44" fill-opacity="0.6" transform="rotate(-9.37 112.8 53.3)"/>
<ellipse cx="120.32" cy="55.12" rx="4.05" ry="3.98" fill-opacity="0.58" transform="rotate(-4.07 120.32 55.12)"/>
<ellipse cx="127.43" cy="55.83" rx="4.08" ry="3.46" fill-opacity="0.7" transform="rotate(1.72 127.43 55.83)"/>
<ellipse cx="135.03" cy="53.6" rx="3.83" ry="4.23" fill-opacity="0.61" transform="rotate(4.89 135.03 53.6)"/>
<ellipse cx="143.51" cy="56.44" rx="3.38" ry="4.47" fill-opacity="0.54" transform="rotate(19.82 143.51 56.44)"/>
<ellipse cx="151.62" cy="54.92" rx="3.43" ry="4.16" fill-opacity="0.68" transform="rotate(-2.62 151.62 54.92)"/>
<ellipse cx="158.61" cy="55.42" rx="4.14" ry="4.68" fill-opacity="0.61" transform="rotate(17.07 158.61 55.42)"/>
<ellipse cx="165.72" cy="57.34" rx="3.41" ry="3.55" fill-opacity="0.61" transform="rotate(17.83 165.72 57.34)"/>
<ellipse cx="173.11" cy="56.58" rx="4.36" ry="3.69" fill-opacity="0.68" transform="rotate(-19.07 173.11 56.58)"/>
<ellipse cx="181.01" cy="57.1" rx="3.78" ry="3.95" fill-opacity="0.74" transform="rotate(-12.08 181.01 57.1)"/>
<ellipse cx="187.51" cy="55.75" rx="3.39" ry="4.16" fill-opacity="0.65" transform="rotate(7.73 187.51 55.75)"/>
<ellipse cx="196.29" cy="57.91" rx="3.6" ry="4.49" fill-opacity="0.51" transform="rotate(-10.21 196.29 57.91)"/>
<ellipse cx="202.8" cy="58.9" rx="4.16" ry="4.23" fill-opacity="0.52" transform="rotate(-2.79 202.8 58.9)"/>
<ellipse cx="210.86" cy="58.82" rx="4.01" ry="4.66" fill-opacity="0.65" transform="rotate(13.57 210.86 58.82)"/>
<ellipse cx="6.68" cy="51.82" rx="4.8" ry="3.57" fill-opacity="0.69" transform="rotate(19.75 6.68 51.82)"/>
<ellipse cx="15.42" cy="49.8" rx="4.86" ry="3.38" fill-opacity="0.64" transform="rotate(14.5 15.42 49.8)"/>
<ellipse cx="24.27" cy="48.17" rx="4.41" ry="3.38" fill-opacity="0.66" transform="rotate(-1.15 24.27 48.17)"/>
<ellipse cx="31.55" cy="48.99" rx="3.98" ry="3.65" fill-opacity="0.49" transform="rotate(12.05 31.55 48.99)"/>
<ellipse cx="40.93" cy="49.48" rx="3.88" ry="3.64" fill-opacity="0.6" transform="rotate(6.67 40.93 49.48)"/>
<ellipse cx="49.36" cy="50.44" rx="3.9" ry="3.32" fill-opacity="0.54" transform="rotate(10.09 49.36 50.44)"/>
<ellipse cx="57.81" cy="47.33" rx="4.02" ry="4.17" fill-opacity="0.54" transform="rotate(6.69 57.81 47.33)"/>
<ellipse cx="63.31" cy="47.12" rx="3.68" ry="3.11" fill-opacity="0.74" transform="rotate(16.97 63.31 47.12)"/>
<ellipse cx="72.04" cy="49.76" rx="4.39" ry="3.33" fill-opacity="0.76" transform="rotate(-9.61 72.04 49.76)"/>
<ellipse cx="80.03" cy="47.26" rx="4.9" ry="4.18" fill-opacity="0.58" transform="rotate(14.03 80.03 47.26)"/>
<ellipse cx="89.12" cy="49.46" rx="3.84" ry="3.76" fill-opacity="0.58" transform="rotate(-0.68 89.12 49.46)"/>
<ellipse cx="98.36" cy="47.31" rx="4.58" ry="3.17" fill-opacity="0.62" transform="rotate(-4.24 98.36 47.31)"/>
<ellipse cx="105.86" cy="48.92" rx="3.63" ry="3.82" fill-opacity="0.65" transform="rotate(-14.29 105.86 48.92)"/>
<ellipse cx="114.46" cy="49.67" rx="3.84" ry="3.38" fill-opacity="0.68" transform="rotate(-3.83 114.46 49.67)"/>
<ellipse cx="120.63" cy="50.13" rx="4.31" ry="3.77" fill-opacity="0.5" transform="rotate(-1.52 120.63 50.13)"/>
<ellipse cx="128.75" cy="49.51" rx="4.3" ry="3.55" fill-opacity="0.5" transform="rotate(8.89 128.75 49.51)"/>
<ellipse cx="145.3" cy="47.81" rx="4.26" ry="3.69" fill-opacity="0.73" transform="rotate(19 145.3 47.81)"/>
<ellipse cx="154.9" cy="51.15" rx="3.62" ry="3.66" fill-opacity="0.69" transform="rotate(19.9 154.9 51.15)"/>
<ellipse cx="172.09" cy="49.64" rx="4.83" ry="3.27" fill-opacity="0.73" transform="rotate(3.78 172.09 49.64)"/>
<ellipse cx="179.34" cy="50.07" rx="4.21" ry="3.86" fill-opacity="0.67" transform="rotate(-8.87 179.34 50.07)"/>
<ellipse cx="196.1" cy="52.35" rx="3.85" ry="3.64" fill-opacity="0.68" transform="rotate(-2.06 196.1 52.35)"/>
<ellipse cx="206.24" cy="53.21" rx="4.66" ry="3.7" fill-opacity="0.67" transform="rotate(10.41 206.24 53.21)"/>
<ellipse cx="213.32" cy="51.51" rx="4.17" ry="3.97" fill-opacity="0.7" transform="rotate(3.28 213.32 51.51)"/>
<ellipse cx="6" cy="44.09" rx="4.91" ry="2.96" fill-opacity="0.55" transform="rotate(-14.01 6 44.09)"/>
<ellipse cx="14.31" cy="45.85" rx="4.57" ry="3.09" fill-opacity="0.5" transform="rotate(4.13 14.31 45.85)"/>
<ellipse cx="24.6" cy="44.31" rx="4.31" ry="2.75" fill-opacity="0.55" transform="rotate(-11.72 24.6 44.31)"/>
<ellipse cx="32.08" cy="43.94" rx="4.57" ry="3.38" fill-opacity="0.7" transform="rotate(4.71 32.08 43.94)"/>
<ellipse cx="40.83" cy="44.73" rx="4.52" ry="3.69" fill-opacity="0.47" transform="rotate(10 40.83 44.73)"/>
<ellipse cx="49.24" cy="43.2" rx="5.09" ry="3.39" fill-opacity="0.6" transform="rotate(-6.27 49.24 43.2)"/>
<ellipse cx="58.95" cy="42.09" rx="4.61" ry="3.09" fill-opacity="0.46" transform="rotate(-0.69 58.95 42.09)"/>
<ellipse cx="66.49" cy="44.02" rx="4.63" ry="3.59" fill-opacity="0.69" transform="rotate(19.55 66.49 44.02)"/>
<ellipse cx="74.28" cy="41.58" rx="5.34" ry="3.21" fill-opacity="0.63" transform="rotate(9.79 74.28 41.58)"/>
<ellipse cx="82" cy="41.64" rx="4.74" ry="3.45" fill-opacity="0.69" transform="rotate(4.65 82 41.64)"/>
<ellipse cx="92.8" cy="43.83" rx="5.32" ry="3.43" fill-opacity="0.62" transform="rotate(-18.25 92.8 43.83)"/>
<ellipse cx="110.79" cy="43.34" rx="4.09" ry="3.34" fill-opacity="0.69" transform="rotate(-4.39 110.79 43.34)"/>
<ellipse cx="120" cy="42.8" rx="4.39" ry="2.77" fill-opacity="0.6" transform="rotate(8.01 120 42.8)"/>
<ellipse cx="129.44" cy="43.47" rx="4.84" ry="3.66" fill-opacity="0.54" transform="rotate(16.99 129.44 43.47)"/>
<ellipse cx="137.08" cy="44.69" rx="4.23" ry="3.28" fill-opacity="0.67" transform="rotate(0.55 137.08 44.69)"/>
<ellipse cx="145.49" cy="42.7" rx="5.3" ry="2.98" fill-opacity="0.44" transform="rotate(-5.12 145.49 42.7)"/>
<ellipse cx="160.73" cy="42.37" rx="4.39" ry="3.34" fill-opacity="0.64" transform="rotate(12.44 160.73 42.37)"/>
<ellipse cx="168.37" cy="43.95" rx="4.51" ry="3.5" fill-opacity="0.47" transform="rotate(14.68 168.37 43.95)"/>
<ellipse cx="177.91" cy="45.79" rx="5.01" ry="3.43" fill-opacity="0.48" transform="rotate(14.06 177.91 45.79)"/>
<ellipse cx="187.31" cy="44.99" rx="4.87" ry="2.77" fill-opacity="0.69" transform="rotate(-3.82 187.31 44.99)"/>
<ellipse cx="195.88" cy="46.58" rx="4.55" ry="2.76" fill-opacity="0.59" transform="rotate(-5.7 195.88 46.58)"/>
<ellipse cx="202.18" cy="46.18" rx="5.06" ry="2.86" fill-opacity="0.44" transform="rotate(11.86 202.18 46.18)"/>
<ellipse cx="212.77" cy="46.89" rx="4.03" ry="2.79" fill-opacity="0.48" transform="rotate(-8.87 212.77 46.89)"/>
<ellipse cx="2.72" cy="40.77" rx="4.12" ry="3.11" fill-opacity="0.45" transform="rotate(-0.89 2.72 40.77)"/>
<ellipse cx="10.42" cy="38.97" rx="4.45" ry="2.76" fill-opacity="0.45" transform="rotate(0.52 10.42 38.97)"/>
<ellipse cx="20.65" cy="38.71" rx="4.36" ry="2.8" fill-opacity="0.66" transform="rotate(9.81 20.65 38.71)"/>
<ellipse cx="28.44" cy="39.74" rx="5.79" ry="2.86" fill-opacity="0.55" transform="rotate(-17.4 28.44 39.74)"/>
<ellipse cx="35.81" cy="39.16" rx="4.32" ry="2.8" fill-opacity="0.63" transform="rotate(-2.17 35.81 39.16)"/>
<ellipse cx="53.74" cy="38.59" rx="5.72" ry="3.08" fill-opacity="0.59" transform="rotate(1.65 53.74 38.59)"/>
<ellipse cx="60.89" cy="38.4" rx="5.32" ry="2.87" fill-opacity="0.53" transform="rotate(14.92 60.89 38.4)"/>
<ellipse cx="71.41" cy="35.77" rx="4.45" ry="2.62" fill-opacity="0.56" transform="rotate(5.44 71.41 35.77)"/>
<ellipse cx="79.33" cy="36.06" rx="5.24" ry="3.11" fill-opacity="0.65" transform="rotate(18.79 79.33 36.06)"/>
<ellipse cx="97.52" cy="37.7" rx="5.17" ry="2.88" fill-opacity="0.61" transform="rotate(-17.08 97.52 37.7)"/>
<ellipse cx="105.69" cy="38.35" rx="4.92" ry="2.48" fill-opacity="0.61" transform="rotate(13.02 105.69 38.35)"/>
<ellipse cx="113.53" cy="36.59" rx="5.01" ry="2.62" fill-opacity="0.41" transform="rotate(0.35 113.53 36.59)"/>
<ellipse cx="121.99" cy="38.03" rx="5.18" ry="2.65" fill-opacity="0.6" transform="rotate(-10.52 121.99 38.03)"/>
<ellipse cx="130.28" cy="38.05" rx="4.72" ry="2.99" fill-opacity="0.61" transform="rotate(-19.81 130.28 38.05)"/>
<ellipse cx="140.33" cy="35.71" rx="5.73" ry="2.92" fill-opacity="0.55" transform="rotate(2.74 140.33 35.71)"/>
<ellipse cx="149.26" cy="36.36" rx="4.88" ry="2.54" fill-opacity="0.55" transform="rotate(-8.38 149.26 36.36)"/>
<ellipse cx="157.56" cy="36.97" rx="5.74" ry="2.74" fill-opacity="0.42" transform="rotate(-3.85 157.56 36.97)"/>
<ellipse cx="167.54" cy="37.82" rx="4.95" ry="2.38" fill-opacity="0.63" transform="rotate(11.56 167.54 37.82)"/>
<ellipse cx="175.87" cy="39.66" rx="4.79" ry="2.73" fill-opacity="0.65" transform="rotate(-5.17 175.87 39.66)"/>
<ellipse cx="186.73" cy="38.01" rx="5.53" ry="2.59" fill-opacity="0.44" transform="rotate(12.78 186.73 38.01)"/>
<ellipse cx="195.52" cy="38.41" rx="4.46" ry="2.59" fill-opacity="0.64" transform="rotate(-9.66 195.52 38.41)"/>
<ellipse cx="203.03" cy="39.16" rx="5.5" ry="2.8" fill-opacity="0.63" transform="rotate(-2.95 203.03 39.16)"/>
<ellipse cx="210.83" cy="39.45" rx="5.51" ry="2.42" fill-opacity="0.43" transform="rotate(-17.47 210.83 39.45)"/>
<ellipse cx="133.27" cy="67.59" rx="3.54" ry="1.44" fill-opacity="0.11" transform="rotate(8.43 133.27 67.59)"/>
<ellipse cx="69.27" cy="108.13" rx="4.69" ry="1.13" fill-opacity="0.1" transform="rotate(2.96 69.27 108.13)"/>
<ellipse cx="64.83" cy="103.17" rx="3.68" ry="1.42" fill-opacity="0.13" transform="rotate(-3.18 64.83 103.17)"/>
<ellipse cx="16.26" cy="63.94" rx="4.41" ry="1.81" fill-opacity="0.18" transform="rotate(3.05 16.26 63.94)"/>
<ellipse cx="26.84" cy="92.96" rx="5.4" ry="1.64" fill-opacity="0.21" transform="rotate(-8.72 26.84 92.96)"/>
<ellipse cx="144.9" cy="70.6" rx="4.33" ry="1.01" fill-opacity="0.16" transform="rotate(3.33 144.9 70.6)"/>
<ellipse cx="94.82" cy="71.68" rx="4.3" ry="1.66" fill-opacity="0.2" transform="rotate(2.3 94.82 71.68)"/>
<ellipse cx="199.01" cy="92.27" rx="5.13" ry="1.78" fill-opacity="0.21" transform="rotate(6.33 199.01 92.27)"/>
<ellipse cx="39.4" cy="62.7" rx="3.5" ry="1.5" fill-opacity="0.8" transform="rotate(20 39.4 62.7)"/>
<ellipse cx="64.9" cy="62.7" rx="4.5" ry="2" fill-opacity="0.52"/>
<ellipse cx="46.3" cy="68.9" rx="4.5" ry="1.5" fill-opacity="0.84" transform="rotate(-15 46.3 68.9)"/>
<ellipse cx="27" cy="77.4" rx="10" ry="1.5" fill-opacity="0.8" transform="rotate(-8 27 77.4)"/>
<ellipse cx="101.3" cy="62" rx="4" ry="1.5" fill-opacity="0.66"/>
<ellipse cx="88.1" cy="68.2" rx="4" ry="1.5" fill-opacity="0.48"/>
<ellipse cx="61.8" cy="89.8" rx="3.5" ry="1.5" fill-opacity="0.8" transform="rotate(20 61.8 89.8)"/>
<ellipse cx="19.2" cy="96.5" rx="6" ry="1.5" fill-opacity="0.48" transform="rotate(-8 19.2 96.5)"/>
<ellipse cx="8.4" cy="106.1" rx="8" ry="1.75" fill-opacity="0.66" transform="rotate(-5 8.4 106.1)"/>
<ellipse cx="33.2" cy="103" rx="3" ry="1.5" fill-opacity="0.39"/>
<ellipse cx="80.4" cy="101.4" rx="7" ry="2" fill-opacity="0.57"/>
<ellipse cx="74.2" cy="106.9" rx="6" ry="2" fill-opacity="0.61"/>
<ellipse cx="6.1" cy="121.6" rx="6" ry="1.5" fill-opacity="0.57"/>
<ellipse cx="53.3" cy="119.2" rx="11" ry="2" fill-opacity="0.57"/>
<ellipse cx="81.9" cy="119.7" rx="4" ry="1.5" fill-opacity="0.34"/>
<ellipse cx="99" cy="116.9" rx="5" ry="1.5" fill-opacity="0.3"/>
<ellipse cx="109" cy="61.2" rx="3.5" ry="1.5" fill-opacity="0.61"/>
<ellipse cx="170.1" cy="64.3" rx="6" ry="1.75" fill-opacity="0.66" transform="rotate(10 170.1 64.3)"/>
<ellipse cx="159.3" cy="72" rx="5" ry="2" fill-opacity="0.75" transform="rotate(5 159.3 72)"/>
<ellipse cx="201.9" cy="74.3" rx="4" ry="1.5" fill-opacity="0.43"/>
<ellipse cx="142.3" cy="93.7" rx="9" ry="2" fill-opacity="0.57" transform="rotate(5 142.3 93.7)"/>
<ellipse cx="200.3" cy="93.7" rx="9" ry="1.5" fill-opacity="0.48" transform="rotate(8 200.3 93.7)"/>
<ellipse cx="153.9" cy="110.4" rx="14" ry="2" fill-opacity="0.57" transform="rotate(3 153.9 110.4)"/>
<ellipse cx="115.2" cy="118.8" rx="5" ry="1.5" fill-opacity="0.39"/>
<ellipse cx="177.1" cy="121.9" rx="5" ry="1.5" fill-opacity="0.43"/>
<ellipse cx="198.8" cy="123.1" rx="8" ry="2" fill-opacity="0.52"/>
<g filter="url(#bl4)"><ellipse cx="77.3" cy="92.9" rx="8" ry="2.5" fill-opacity="0.66"/><ellipse cx="92" cy="92.9" rx="7" ry="2.5" fill-opacity="0.71"/><ellipse cx="129.9" cy="102.2" rx="13" ry="2.5" fill-opacity="0.71" transform="rotate(-3 129.9 102.2)"/><ellipse cx="173.2" cy="106.1" rx="4" ry="3.5" fill-opacity="0.71"/><ellipse cx="144.6" cy="118.5" rx="6" ry="2.5" fill-opacity="0.6"/></g>
</g></g></g>
<rect x="24" y="221" width="59" height="2.8" fill="#fff"/>
<text x="1" y="15.3" font-size="17.5" text-anchor="start" font-weight="bold" fill="#000" >A</text>
<text x="119" y="9.8" font-size="12" text-anchor="middle" font-weight="normal" fill="#000" >B6</text>
<text x="334" y="9.8" font-size="12" text-anchor="middle" font-weight="normal" fill="#000" >F1</text>
<text x="551" y="9.8" font-size="12" text-anchor="middle" font-weight="normal" fill="#000" >129</text>
<text x="660.5" y="68" font-size="12.5" text-anchor="start" font-weight="normal" fill="#000" textLength="19.6" lengthAdjust="spacingAndGlyphs">-Epi</text>
<text x="660.5" y="128.4" font-size="12.5" text-anchor="start" font-weight="normal" fill="#000" textLength="18.6" lengthAdjust="spacingAndGlyphs">-Str</text>
<text x="660.5" y="174" font-size="12.5" text-anchor="start" font-weight="normal" fill="#000" textLength="23.2" lengthAdjust="spacingAndGlyphs">-End</text>
<text x="660.5" y="294.9" font-size="12.5" text-anchor="start" font-weight="normal" fill="#000" textLength="19.6" lengthAdjust="spacingAndGlyphs">-Epi</text>
<text x="660.5" y="340" font-size="12.5" text-anchor="start" font-weight="normal" fill="#000" textLength="18.6" lengthAdjust="spacingAndGlyphs">-Str</text>
<text x="660.5" y="363.7" font-size="12.5" text-anchor="start" font-weight="normal" fill="#000" textLength="23.2" lengthAdjust="spacingAndGlyphs">-End</text>
<text transform="translate(11.9 117.4) rotate(-90)" font-size="12.5" text-anchor="middle" fill="#000">Wt</text>
<text transform="translate(11.8 342) rotate(-90)" font-size="12.5" text-anchor="middle" fill="#000">Het</text>
<circle cx="68.3" cy="495.9" r="3.2" fill="#215e2c"/>
<circle cx="63.8" cy="505.4" r="3.2" fill="#215e2c"/>
<circle cx="72.8" cy="507.4" r="3.2" fill="#215e2c"/>
<circle cx="68.3" cy="525.3" r="3.2" fill="#215e2c"/>
<circle cx="114.5" cy="510.3" r="3.2" fill="#0f566c"/>
<circle cx="104.9" cy="517.4" r="3.2" fill="#0f566c"/>
<circle cx="123.3" cy="522.1" r="3.2" fill="#0f566c"/>
<circle cx="114.5" cy="523.5" r="3.2" fill="#0f566c"/>
<circle cx="160.5" cy="488" r="3.2" fill="#c5662a"/>
<circle cx="156" cy="493.9" r="3.2" fill="#c5662a"/>
<circle cx="165.2" cy="502.7" r="3.2" fill="#c5662a"/>
<circle cx="160.5" cy="513.3" r="3.2" fill="#c5662a"/>
<circle cx="206.3" cy="560.9" r="3.2" fill="#3bb54a"/>
<circle cx="201.7" cy="571.4" r="3.2" fill="#3bb54a"/>
<circle cx="210.9" cy="572.1" r="3.2" fill="#3bb54a"/>
<circle cx="206.3" cy="586.5" r="3.2" fill="#3bb54a"/>
<circle cx="252.4" cy="567.7" r="3.2" fill="#2aa2c2"/>
<circle cx="247.8" cy="580" r="3.2" fill="#2aa2c2"/>
<circle cx="257" cy="580" r="3.2" fill="#2aa2c2"/>
<circle cx="252.4" cy="592.2" r="3.2" fill="#2aa2c2"/>
<circle cx="298.5" cy="521.5" r="3.2" fill="#f28a2a"/>
<circle cx="298.5" cy="533.2" r="3.2" fill="#f28a2a"/>
<circle cx="303" cy="544.8" r="3.2" fill="#f28a2a"/>
<circle cx="294" cy="553.5" r="3.2" fill="#f28a2a"/>
<line x1="53.2" y1="508.4" x2="83.8" y2="508.4" stroke="#000" stroke-width="2.2"/>
<line x1="60.9" y1="496.3" x2="76.1" y2="496.3" stroke="#000" stroke-width="2.2"/>
<line x1="60.9" y1="520.8" x2="76.1" y2="520.8" stroke="#000" stroke-width="2.2"/>
<line x1="68.5" y1="496.3" x2="68.5" y2="520.8" stroke="#000" stroke-width="2.2"/>
<line x1="99.2" y1="518.6" x2="129.8" y2="518.6" stroke="#000" stroke-width="2.2"/>
<line x1="106.9" y1="512.9" x2="122.1" y2="512.9" stroke="#000" stroke-width="2.2"/>
<line x1="106.9" y1="524.2" x2="122.1" y2="524.2" stroke="#000" stroke-width="2.2"/>
<line x1="114.5" y1="512.9" x2="114.5" y2="524.2" stroke="#000" stroke-width="2.2"/>
<line x1="145.2" y1="499.6" x2="175.8" y2="499.6" stroke="#000" stroke-width="2.2"/>
<line x1="152.9" y1="489" x2="168.1" y2="489" stroke="#000" stroke-width="2.2"/>
<line x1="152.9" y1="510.3" x2="168.1" y2="510.3" stroke="#000" stroke-width="2.2"/>
<line x1="160.5" y1="489" x2="160.5" y2="510.3" stroke="#000" stroke-width="2.2"/>
<line x1="191.1" y1="572.5" x2="221.7" y2="572.5" stroke="#000" stroke-width="2.2"/>
<line x1="198.8" y1="562.6" x2="214" y2="562.6" stroke="#000" stroke-width="2.2"/>
<line x1="198.8" y1="582.9" x2="214" y2="582.9" stroke="#000" stroke-width="2.2"/>
<line x1="206.4" y1="562.6" x2="206.4" y2="582.9" stroke="#000" stroke-width="2.2"/>
<line x1="237.1" y1="580" x2="267.7" y2="580" stroke="#000" stroke-width="2.2"/>
<line x1="244.8" y1="570.8" x2="260" y2="570.8" stroke="#000" stroke-width="2.2"/>
<line x1="244.8" y1="589.4" x2="260" y2="589.4" stroke="#000" stroke-width="2.2"/>
<line x1="252.4" y1="570.8" x2="252.4" y2="589.4" stroke="#000" stroke-width="2.2"/>
<line x1="283.2" y1="538.6" x2="313.8" y2="538.6" stroke="#000" stroke-width="2.2"/>
<line x1="290.9" y1="524.9" x2="306.1" y2="524.9" stroke="#000" stroke-width="2.2"/>
<line x1="290.9" y1="551.9" x2="306.1" y2="551.9" stroke="#000" stroke-width="2.2"/>
<line x1="298.5" y1="524.9" x2="298.5" y2="551.9" stroke="#000" stroke-width="2.2"/>
<line x1="45.5" y1="472.89" x2="45.5" y2="626.8" stroke="#000" stroke-width="2.2"/>
<line x1="41" y1="625.7" x2="322.5" y2="625.7" stroke="#000" stroke-width="2.2"/>
<line x1="40.9" y1="625.7" x2="45.5" y2="625.7" stroke="#000" stroke-width="2.2"/>
<text x="35.2" y="629.9" font-size="12.5" text-anchor="end" font-weight="normal" fill="#000" >0</text>
<line x1="40.9" y1="575.13" x2="45.5" y2="575.13" stroke="#000" stroke-width="2.2"/>
<text x="35.2" y="579.33" font-size="12.5" text-anchor="end" font-weight="normal" fill="#000" >10</text>
<line x1="40.9" y1="524.56" x2="45.5" y2="524.56" stroke="#000" stroke-width="2.2"/>
<text x="35.2" y="528.76" font-size="12.5" text-anchor="end" font-weight="normal" fill="#000" >20</text>
<line x1="40.9" y1="473.99" x2="45.5" y2="473.99" stroke="#000" stroke-width="2.2"/>
<text x="35.2" y="478.19" font-size="12.5" text-anchor="end" font-weight="normal" fill="#000" >30</text>
<line x1="68.5" y1="625.7" x2="68.5" y2="629.9" stroke="#000" stroke-width="2.2"/>
<text transform="translate(70.1 638.5) rotate(-45)" font-size="12.5" text-anchor="end" fill="#000">B6</text>
<line x1="114.5" y1="625.7" x2="114.5" y2="629.9" stroke="#000" stroke-width="2.2"/>
<text transform="translate(116.1 638.5) rotate(-45)" font-size="12.5" text-anchor="end" fill="#000">F1</text>
<line x1="160.5" y1="625.7" x2="160.5" y2="629.9" stroke="#000" stroke-width="2.2"/>
<text transform="translate(162.1 638.5) rotate(-45)" font-size="12.5" text-anchor="end" fill="#000">129</text>
<line x1="206.5" y1="625.7" x2="206.5" y2="629.9" stroke="#000" stroke-width="2.2"/>
<text transform="translate(208.1 638.5) rotate(-45)" font-size="12.5" text-anchor="end" fill="#000">B6</text>
<line x1="252.5" y1="625.7" x2="252.5" y2="629.9" stroke="#000" stroke-width="2.2"/>
<text transform="translate(254.1 638.5) rotate(-45)" font-size="12.5" text-anchor="end" fill="#000">F1</text>
<line x1="298.5" y1="625.7" x2="298.5" y2="629.9" stroke="#000" stroke-width="2.2"/>
<text transform="translate(300.1 638.5) rotate(-45)" font-size="12.5" text-anchor="end" fill="#000">129</text>
<line x1="51.2" y1="654.8" x2="158.9" y2="654.8" stroke="#000" stroke-width="2.1"/>
<line x1="191.2" y1="654.8" x2="298.2" y2="654.8" stroke="#000" stroke-width="2.1"/>
<text x="103" y="669" font-size="12.5" text-anchor="middle" font-weight="normal" fill="#000" >Wt</text>
<text x="245.1" y="669" font-size="12.5" text-anchor="middle" font-weight="normal" fill="#000" >Het</text>
<text x="175.3" y="683" font-size="12.5" text-anchor="middle" font-weight="normal" fill="#000" >Genotype and Bkgd</text>
<text x="180.8" y="478.8" font-size="12.5" text-anchor="middle" font-weight="normal" fill="#000" >Epithelium Thickness</text>
<text x="51.4" y="584.6" font-size="12.5" text-anchor="start" font-weight="normal" fill="#000" >Genotype: p&lt;0.001</text>
<text x="51.4" y="599.4" font-size="12.5" text-anchor="start" font-weight="normal" fill="#000" >Bkgd: p&lt;0.001</text>
<text x="51.4" y="613.6" font-size="12.5" text-anchor="start" font-weight="normal" fill="#000" >Epistasis: p&lt;0.05</text>
<text transform="translate(11.9 552.2) rotate(-90)" font-size="12.5" text-anchor="middle" fill="#000">Thickness (µm)</text>
<text x="1.6" y="476.6" font-size="17.5" text-anchor="start" font-weight="bold" fill="#000" >B</text>
<polyline points="207.2,497.4 207.2,490.2 298.5,490.2 298.5,497" fill="none" stroke="#e3262b" stroke-width="2"/>
<polyline points="251.5,510.5 251.5,503.8 298.5,503.8 298.5,510.5" fill="none" stroke="#e3262b" stroke-width="2"/>
<path d="M246.1 484.4L252.9 484.4M247.8 481.46L251.2 487.34M251.2 481.46L247.8 487.34" stroke="#e3262b" stroke-width="1.1" fill="none"/>
<path d="M253.9 484.4L260.7 484.4M255.6 481.46L259 487.34M259 481.46L255.6 487.34" stroke="#e3262b" stroke-width="1.1" fill="none"/>
<path d="M261.4 497.9L268.2 497.9M263.1 494.96L266.5 500.84M266.5 494.96L263.1 500.84" stroke="#e3262b" stroke-width="1.1" fill="none"/>
<path d="M269.2 497.9L276 497.9M270.9 494.96L274.3 500.84M274.3 494.96L270.9 500.84" stroke="#e3262b" stroke-width="1.1" fill="none"/>
<path d="M277 497.9L283.8 497.9M278.7 494.96L282.1 500.84M282.1 494.96L278.7 500.84" stroke="#e3262b" stroke-width="1.1" fill="none"/>
<circle cx="424.2" cy="501.4" r="3.2" fill="#215e2c"/>
<circle cx="438.1" cy="504" r="3.2" fill="#215e2c"/>
<circle cx="433.1" cy="509" r="3.2" fill="#215e2c"/>
<circle cx="424.2" cy="517.5" r="3.2" fill="#215e2c"/>
<circle cx="474.9" cy="503.8" r="3.2" fill="#0f566c"/>
<circle cx="465.8" cy="507.6" r="3.2" fill="#0f566c"/>
<circle cx="483.9" cy="509" r="3.2" fill="#0f566c"/>
<circle cx="474.9" cy="515.4" r="3.2" fill="#0f566c"/>
<circle cx="520.7" cy="499.7" r="3.2" fill="#c5662a"/>
<circle cx="516.2" cy="507" r="3.2" fill="#c5662a"/>
<circle cx="525.4" cy="513.4" r="3.2" fill="#c5662a"/>
<circle cx="520.7" cy="524.5" r="3.2" fill="#c5662a"/>
<circle cx="566.6" cy="559.9" r="3.2" fill="#3bb54a"/>
<circle cx="557.3" cy="563.7" r="3.2" fill="#3bb54a"/>
<circle cx="576.3" cy="566.4" r="3.2" fill="#3bb54a"/>
<circle cx="566.6" cy="573" r="3.2" fill="#3bb54a"/>
<circle cx="608.1" cy="572" r="3.2" fill="#2aa2c2"/>
<circle cx="622.4" cy="573.4" r="3.2" fill="#2aa2c2"/>
<circle cx="617.5" cy="576.6" r="3.2" fill="#2aa2c2"/>
<circle cx="608.1" cy="585.1" r="3.2" fill="#2aa2c2"/>
<circle cx="658.5" cy="528.2" r="3.2" fill="#f28a2a"/>
<circle cx="649.4" cy="533.5" r="3.2" fill="#f28a2a"/>
<circle cx="668.1" cy="538.2" r="3.2" fill="#f28a2a"/>
<circle cx="658.5" cy="540.3" r="3.2" fill="#f28a2a"/>
<line x1="413.4" y1="508" x2="444" y2="508" stroke="#000" stroke-width="2.2"/>
<line x1="421.1" y1="500.8" x2="436.3" y2="500.8" stroke="#000" stroke-width="2.2"/>
<line x1="421.1" y1="514.9" x2="436.3" y2="514.9" stroke="#000" stroke-width="2.2"/>
<line x1="428.7" y1="500.8" x2="428.7" y2="514.9" stroke="#000" stroke-width="2.2"/>
<line x1="459.6" y1="509" x2="490.2" y2="509" stroke="#000" stroke-width="2.2"/>
<line x1="467.3" y1="504.9" x2="482.5" y2="504.9" stroke="#000" stroke-width="2.2"/>
<line x1="467.3" y1="513.4" x2="482.5" y2="513.4" stroke="#000" stroke-width="2.2"/>
<line x1="474.9" y1="504.9" x2="474.9" y2="513.4" stroke="#000" stroke-width="2.2"/>
<line x1="505.4" y1="510.9" x2="536" y2="510.9" stroke="#000" stroke-width="2.2"/>
<line x1="513.1" y1="501.1" x2="528.3" y2="501.1" stroke="#000" stroke-width="2.2"/>
<line x1="513.1" y1="521.2" x2="528.3" y2="521.2" stroke="#000" stroke-width="2.2"/>
<line x1="520.7" y1="501.1" x2="520.7" y2="521.2" stroke="#000" stroke-width="2.2"/>
<line x1="551.3" y1="566" x2="581.9" y2="566" stroke="#000" stroke-width="2.2"/>
<line x1="559" y1="561.3" x2="574.2" y2="561.3" stroke="#000" stroke-width="2.2"/>
<line x1="559" y1="571" x2="574.2" y2="571" stroke="#000" stroke-width="2.2"/>
<line x1="566.6" y1="561.3" x2="566.6" y2="571" stroke="#000" stroke-width="2.2"/>
<line x1="597.5" y1="576.9" x2="628.1" y2="576.9" stroke="#000" stroke-width="2.2"/>
<line x1="605.2" y1="570.8" x2="620.4" y2="570.8" stroke="#000" stroke-width="2.2"/>
<line x1="605.2" y1="582.8" x2="620.4" y2="582.8" stroke="#000" stroke-width="2.2"/>
<line x1="612.8" y1="570.8" x2="612.8" y2="582.8" stroke="#000" stroke-width="2.2"/>
<line x1="643.5" y1="535.2" x2="674.1" y2="535.2" stroke="#000" stroke-width="2.2"/>
<line x1="651.2" y1="531.4" x2="666.4" y2="531.4" stroke="#000" stroke-width="2.2"/>
<line x1="651.2" y1="539.2" x2="666.4" y2="539.2" stroke="#000" stroke-width="2.2"/>
<line x1="658.8" y1="531.4" x2="658.8" y2="539.2" stroke="#000" stroke-width="2.2"/>
<line x1="406" y1="473.8" x2="406" y2="626.5" stroke="#000" stroke-width="2.2"/>
<line x1="401.2" y1="625.4" x2="683" y2="625.4" stroke="#000" stroke-width="2.2"/>
<line x1="401.4" y1="625.4" x2="406" y2="625.4" stroke="#000" stroke-width="2.2"/>
<text x="396" y="629.6" font-size="12.5" text-anchor="end" font-weight="normal" fill="#000" >0</text>
<line x1="401.4" y1="595.3" x2="406" y2="595.3" stroke="#000" stroke-width="2.2"/>
<text x="396" y="599.5" font-size="12.5" text-anchor="end" font-weight="normal" fill="#000" >20</text>
<line x1="401.4" y1="565.2" x2="406" y2="565.2" stroke="#000" stroke-width="2.2"/>
<text x="396" y="569.4" font-size="12.5" text-anchor="end" font-weight="normal" fill="#000" >40</text>
<line x1="401.4" y1="535.1" x2="406" y2="535.1" stroke="#000" stroke-width="2.2"/>
<text x="396" y="539.3" font-size="12.5" text-anchor="end" font-weight="normal" fill="#000" >60</text>
<line x1="401.4" y1="505" x2="406" y2="505" stroke="#000" stroke-width="2.2"/>
<text x="396" y="509.2" font-size="12.5" text-anchor="end" font-weight="normal" fill="#000" >80</text>
<line x1="401.4" y1="474.9" x2="406" y2="474.9" stroke="#000" stroke-width="2.2"/>
<text x="396" y="479.1" font-size="12.5" text-anchor="end" font-weight="normal" fill="#000" >100</text>
<line x1="429" y1="625.4" x2="429" y2="629.6" stroke="#000" stroke-width="2.2"/>
<text transform="translate(434.8 638.2) rotate(-45)" font-size="12.5" text-anchor="end" fill="#000">B6</text>
<line x1="475" y1="625.4" x2="475" y2="629.6" stroke="#000" stroke-width="2.2"/>
<text transform="translate(480.8 638.2) rotate(-45)" font-size="12.5" text-anchor="end" fill="#000">F1</text>
<line x1="521" y1="625.4" x2="521" y2="629.6" stroke="#000" stroke-width="2.2"/>
<text transform="translate(526.8 638.2) rotate(-45)" font-size="12.5" text-anchor="end" fill="#000">129</text>
<line x1="567" y1="625.4" x2="567" y2="629.6" stroke="#000" stroke-width="2.2"/>
<text transform="translate(572.8 638.2) rotate(-45)" font-size="12.5" text-anchor="end" fill="#000">B6</text>
<line x1="613" y1="625.4" x2="613" y2="629.6" stroke="#000" stroke-width="2.2"/>
<text transform="translate(618.8 638.2) rotate(-45)" font-size="12.5" text-anchor="end" fill="#000">F1</text>
<line x1="659" y1="625.4" x2="659" y2="629.6" stroke="#000" stroke-width="2.2"/>
<text transform="translate(664.8 638.2) rotate(-45)" font-size="12.5" text-anchor="end" fill="#000">129</text>
<line x1="415.8" y1="654.9" x2="523.5" y2="654.9" stroke="#000" stroke-width="2.1"/>
<line x1="550.6" y1="654.9" x2="657.9" y2="654.9" stroke="#000" stroke-width="2.1"/>
<text x="467.8" y="669" font-size="12.5" text-anchor="middle" font-weight="normal" fill="#000" >Wt</text>
<text x="605.1" y="669" font-size="12.5" text-anchor="middle" font-weight="normal" fill="#000" >Het</text>
<text x="536.2" y="683.5" font-size="12.5" text-anchor="middle" font-weight="normal" fill="#000" >Genotype and Bkgd</text>
<text x="536.7" y="479" font-size="12.5" text-anchor="middle" font-weight="normal" fill="#000" >Epithelium Cell Count</text>
<text x="410.8" y="584.6" font-size="12.5" text-anchor="start" font-weight="normal" fill="#000" >Genotype: p&lt;0.001</text>
<text x="410.8" y="599.4" font-size="12.5" text-anchor="start" font-weight="normal" fill="#000" >Bkgd: p&lt;0.001</text>
<text x="410.8" y="613.6" font-size="12.5" text-anchor="start" font-weight="normal" fill="#000" >Epistasis: p&lt;0.001</text>
<text transform="translate(373 551.7) rotate(-90)" font-size="12.5" text-anchor="middle" fill="#000">Cells/ 200 µm</text>
<text x="359.6" y="476.6" font-size="17.5" text-anchor="start" font-weight="bold" fill="#000" >C</text>
<polyline points="566,510.9 610.9,510.9" fill="none" stroke="#e3262b" stroke-width="2"/>
<polyline points="589.5,510.9 589.5,503.4 658.5,503.4 658.5,510.6" fill="none" stroke="#e3262b" stroke-width="2"/>
<path d="M611.6 497.9L618.4 497.9M613.3 494.96L616.7 500.84M616.7 494.96L613.3 500.84" stroke="#e3262b" stroke-width="1.1" fill="none"/>
<path d="M619.4 497.9L626.2 497.9M621.1 494.96L624.5 500.84M624.5 494.96L621.1 500.84" stroke="#e3262b" stroke-width="1.1" fill="none"/>
<path d="M627.2 497.9L634 497.9M628.9 494.96L632.3 500.84M632.3 494.96L628.9 500.84" stroke="#e3262b" stroke-width="1.1" fill="none"/>
<circle cx="68.5" cy="742.7" r="3.2" fill="#215e2c"/>
<circle cx="68.5" cy="758" r="3.2" fill="#215e2c"/>
<circle cx="68.5" cy="775" r="3.2" fill="#215e2c"/>
<circle cx="68.5" cy="790.9" r="3.2" fill="#215e2c"/>
<circle cx="102.6" cy="759.3" r="3.2" fill="#0f566c"/>
<circle cx="126" cy="758.1" r="3.2" fill="#0f566c"/>
<circle cx="110.5" cy="766" r="3.2" fill="#0f566c"/>
<circle cx="118.4" cy="764.9" r="3.2" fill="#0f566c"/>
<circle cx="160.5" cy="738.2" r="3.2" fill="#c5662a"/>
<circle cx="155.4" cy="754.9" r="3.2" fill="#c5662a"/>
<circle cx="165.2" cy="755.5" r="3.2" fill="#c5662a"/>
<circle cx="160.5" cy="785.8" r="3.2" fill="#c5662a"/>
<circle cx="201.7" cy="790.5" r="3.2" fill="#3bb54a"/>
<circle cx="211.2" cy="794" r="3.2" fill="#3bb54a"/>
<circle cx="211.2" cy="804.8" r="3.2" fill="#3bb54a"/>
<circle cx="201.7" cy="811.4" r="3.2" fill="#3bb54a"/>
<circle cx="247.6" cy="779.2" r="3.2" fill="#2aa2c2"/>
<circle cx="256.7" cy="779.2" r="3.2" fill="#2aa2c2"/>
<circle cx="247.6" cy="806.1" r="3.2" fill="#2aa2c2"/>
<circle cx="256.7" cy="806.1" r="3.2" fill="#2aa2c2"/>
<circle cx="298.3" cy="758.7" r="3.2" fill="#f28a2a"/>
<circle cx="298.3" cy="773.8" r="3.2" fill="#f28a2a"/>
<circle cx="303" cy="782" r="3.2" fill="#f28a2a"/>
<circle cx="293.7" cy="791.1" r="3.2" fill="#f28a2a"/>
<line x1="53.2" y1="766.8" x2="83.8" y2="766.8" stroke="#000" stroke-width="2.2"/>
<line x1="60.9" y1="745.9" x2="76.1" y2="745.9" stroke="#000" stroke-width="2.2"/>
<line x1="60.9" y1="787.6" x2="76.1" y2="787.6" stroke="#000" stroke-width="2.2"/>
<line x1="68.5" y1="745.9" x2="68.5" y2="787.6" stroke="#000" stroke-width="2.2"/>
<line x1="99.3" y1="762.2" x2="129.9" y2="762.2" stroke="#000" stroke-width="2.2"/>
<line x1="107" y1="758.8" x2="122.2" y2="758.8" stroke="#000" stroke-width="2.2"/>
<line x1="107" y1="765.1" x2="122.2" y2="765.1" stroke="#000" stroke-width="2.2"/>
<line x1="114.6" y1="758.8" x2="114.6" y2="765.1" stroke="#000" stroke-width="2.2"/>
<line x1="145.2" y1="758.6" x2="175.8" y2="758.6" stroke="#000" stroke-width="2.2"/>
<line x1="152.9" y1="738.8" x2="168.1" y2="738.8" stroke="#000" stroke-width="2.2"/>
<line x1="152.9" y1="778.4" x2="168.1" y2="778.4" stroke="#000" stroke-width="2.2"/>
<line x1="160.5" y1="738.8" x2="160.5" y2="778.4" stroke="#000" stroke-width="2.2"/>
<line x1="191" y1="800.4" x2="221.6" y2="800.4" stroke="#000" stroke-width="2.2"/>
<line x1="198.7" y1="790.9" x2="213.9" y2="790.9" stroke="#000" stroke-width="2.2"/>
<line x1="198.7" y1="809.5" x2="213.9" y2="809.5" stroke="#000" stroke-width="2.2"/>
<line x1="206.3" y1="790.9" x2="206.3" y2="809.5" stroke="#000" stroke-width="2.2"/>
<line x1="237.1" y1="792.8" x2="267.7" y2="792.8" stroke="#000" stroke-width="2.2"/>
<line x1="244.8" y1="776.3" x2="260" y2="776.3" stroke="#000" stroke-width="2.2"/>
<line x1="244.8" y1="809" x2="260" y2="809" stroke="#000" stroke-width="2.2"/>
<line x1="252.4" y1="776.3" x2="252.4" y2="809" stroke="#000" stroke-width="2.2"/>
<line x1="283" y1="776.3" x2="313.6" y2="776.3" stroke="#000" stroke-width="2.2"/>
<line x1="290.7" y1="762.6" x2="305.9" y2="762.6" stroke="#000" stroke-width="2.2"/>
<line x1="290.7" y1="790.2" x2="305.9" y2="790.2" stroke="#000" stroke-width="2.2"/>
<line x1="298.3" y1="762.6" x2="298.3" y2="790.2" stroke="#000" stroke-width="2.2"/>
<line x1="45.6" y1="717.7" x2="45.6" y2="871.1" stroke="#000" stroke-width="2.2"/>
<line x1="41" y1="870" x2="322.5" y2="870" stroke="#000" stroke-width="2.2"/>
<line x1="41" y1="870" x2="45.6" y2="870" stroke="#000" stroke-width="2.2"/>
<text x="36.6" y="874" font-size="12.5" text-anchor="end" font-weight="normal" fill="#000" >0</text>
<line x1="41" y1="839.76" x2="45.6" y2="839.76" stroke="#000" stroke-width="2.2"/>
<text x="36.6" y="843.76" font-size="12.5" text-anchor="end" font-weight="normal" fill="#000" >20</text>
<line x1="41" y1="809.52" x2="45.6" y2="809.52" stroke="#000" stroke-width="2.2"/>
<text x="36.6" y="813.52" font-size="12.5" text-anchor="end" font-weight="normal" fill="#000" >40</text>
<line x1="41" y1="779.28" x2="45.6" y2="779.28" stroke="#000" stroke-width="2.2"/>
<text x="36.6" y="783.28" font-size="12.5" text-anchor="end" font-weight="normal" fill="#000" >60</text>
<line x1="41" y1="749.04" x2="45.6" y2="749.04" stroke="#000" stroke-width="2.2"/>
<text x="36.6" y="753.04" font-size="12.5" text-anchor="end" font-weight="normal" fill="#000" >80</text>
<line x1="41" y1="718.8" x2="45.6" y2="718.8" stroke="#000" stroke-width="2.2"/>
<text x="36.6" y="722.8" font-size="12.5" text-anchor="end" font-weight="normal" fill="#000" >100</text>
<line x1="68.5" y1="870" x2="68.5" y2="874.2" stroke="#000" stroke-width="2.2"/>
<text transform="translate(73.5 883.5) rotate(-45)" font-size="12.5" text-anchor="end" fill="#000">B6</text>
<line x1="114.6" y1="870" x2="114.6" y2="874.2" stroke="#000" stroke-width="2.2"/>
<text transform="translate(119.6 883.5) rotate(-45)" font-size="12.5" text-anchor="end" fill="#000">F1</text>
<line x1="160.7" y1="870" x2="160.7" y2="874.2" stroke="#000" stroke-width="2.2"/>
<text transform="translate(165.7 883.5) rotate(-45)" font-size="12.5" text-anchor="end" fill="#000">129</text>
<line x1="206.8" y1="870" x2="206.8" y2="874.2" stroke="#000" stroke-width="2.2"/>
<text transform="translate(211.8 883.5) rotate(-45)" font-size="12.5" text-anchor="end" fill="#000">B6</text>
<line x1="252.9" y1="870" x2="252.9" y2="874.2" stroke="#000" stroke-width="2.2"/>
<text transform="translate(257.9 883.5) rotate(-45)" font-size="12.5" text-anchor="end" fill="#000">F1</text>
<line x1="299" y1="870" x2="299" y2="874.2" stroke="#000" stroke-width="2.2"/>
<text transform="translate(304 883.5) rotate(-45)" font-size="12.5" text-anchor="end" fill="#000">129</text>
<line x1="54.5" y1="900.2" x2="162.5" y2="900.2" stroke="#000" stroke-width="2.1"/>
<line x1="191.1" y1="900.2" x2="298.5" y2="900.2" stroke="#000" stroke-width="2.1"/>
<text x="106.3" y="913.5" font-size="12.5" text-anchor="middle" font-weight="normal" fill="#000" >Wt</text>
<text x="245.1" y="913.5" font-size="12.5" text-anchor="middle" font-weight="normal" fill="#000" >Het</text>
<text x="175.5" y="925.8" font-size="12.5" text-anchor="middle" font-weight="normal" fill="#000" >Genotype and Bkgd</text>
<text x="182" y="723.6" font-size="12.5" text-anchor="middle" font-weight="normal" fill="#000" >Stroma &amp; Endothelium Thickness</text>
<text x="51.4" y="833.4" font-size="12.5" text-anchor="start" font-weight="normal" fill="#000" >Genotype: p&lt;0.001</text>
<text x="51.4" y="848.2" font-size="12.5" text-anchor="start" font-weight="normal" fill="#000" >Bkgd: N.S.</text>
<text x="51.4" y="862.8" font-size="12.5" text-anchor="start" font-weight="normal" fill="#000" >Epistasis: N.S.</text>
<text transform="translate(12.9 796.2) rotate(-90)" font-size="12.5" text-anchor="middle" fill="#000">Thickness (µm)</text>
<text x="1.4" y="719.6" font-size="17.5" text-anchor="start" font-weight="bold" fill="#000" >D</text>
<circle cx="419.6" cy="811.4" r="3.2" fill="#215e2c"/>
<circle cx="428.1" cy="811.7" r="3.2" fill="#215e2c"/>
<circle cx="438.3" cy="810.5" r="3.2" fill="#215e2c"/>
<circle cx="428.7" cy="823.4" r="3.2" fill="#215e2c"/>
<circle cx="474.5" cy="782.7" r="3.2" fill="#0f566c"/>
<circle cx="474.5" cy="809.2" r="3.2" fill="#0f566c"/>
<circle cx="479.6" cy="816.6" r="3.2" fill="#0f566c"/>
<circle cx="470.4" cy="821.1" r="3.2" fill="#0f566c"/>
<circle cx="511.7" cy="815.6" r="3.2" fill="#c5662a"/>
<circle cx="529.9" cy="815.6" r="3.2" fill="#c5662a"/>
<circle cx="520.7" cy="820.7" r="3.2" fill="#c5662a"/>
<circle cx="520.7" cy="833" r="3.2" fill="#c5662a"/>
<circle cx="566.6" cy="739.5" r="3.2" fill="#3bb54a"/>
<circle cx="562.1" cy="788.8" r="3.2" fill="#3bb54a"/>
<circle cx="571.3" cy="793.2" r="3.2" fill="#3bb54a"/>
<circle cx="566.6" cy="808.4" r="3.2" fill="#3bb54a"/>
<circle cx="612.6" cy="773" r="3.2" fill="#2aa2c2"/>
<circle cx="612.6" cy="785.5" r="3.2" fill="#2aa2c2"/>
<circle cx="612.6" cy="814.6" r="3.2" fill="#2aa2c2"/>
<circle cx="612.6" cy="825.2" r="3.2" fill="#2aa2c2"/>
<circle cx="667.7" cy="796.3" r="3.2" fill="#f28a2a"/>
<circle cx="649.7" cy="802.4" r="3.2" fill="#f28a2a"/>
<circle cx="658.5" cy="804.5" r="3.2" fill="#f28a2a"/>
<circle cx="658.5" cy="817.4" r="3.2" fill="#f28a2a"/>
<line x1="413.4" y1="814.7" x2="444" y2="814.7" stroke="#000" stroke-width="2.2"/>
<line x1="421.1" y1="808.6" x2="436.3" y2="808.6" stroke="#000" stroke-width="2.2"/>
<line x1="421.1" y1="820.3" x2="436.3" y2="820.3" stroke="#000" stroke-width="2.2"/>
<line x1="428.7" y1="808.6" x2="428.7" y2="820.3" stroke="#000" stroke-width="2.2"/>
<line x1="459.2" y1="807.2" x2="489.8" y2="807.2" stroke="#000" stroke-width="2.2"/>
<line x1="466.9" y1="790" x2="482.1" y2="790" stroke="#000" stroke-width="2.2"/>
<line x1="466.9" y1="824.6" x2="482.1" y2="824.6" stroke="#000" stroke-width="2.2"/>
<line x1="474.5" y1="790" x2="474.5" y2="824.6" stroke="#000" stroke-width="2.2"/>
<line x1="505.4" y1="821.5" x2="536" y2="821.5" stroke="#000" stroke-width="2.2"/>
<line x1="513.1" y1="813" x2="528.3" y2="813" stroke="#000" stroke-width="2.2"/>
<line x1="513.1" y1="829.3" x2="528.3" y2="829.3" stroke="#000" stroke-width="2.2"/>
<line x1="520.7" y1="813" x2="520.7" y2="829.3" stroke="#000" stroke-width="2.2"/>
<line x1="551.3" y1="782.6" x2="581.9" y2="782.6" stroke="#000" stroke-width="2.2"/>
<line x1="559" y1="753" x2="574.2" y2="753" stroke="#000" stroke-width="2.2"/>
<line x1="559" y1="812.3" x2="574.2" y2="812.3" stroke="#000" stroke-width="2.2"/>
<line x1="566.6" y1="753" x2="566.6" y2="812.3" stroke="#000" stroke-width="2.2"/>
<line x1="597.3" y1="800" x2="627.9" y2="800" stroke="#000" stroke-width="2.2"/>
<line x1="605" y1="775.9" x2="620.2" y2="775.9" stroke="#000" stroke-width="2.2"/>
<line x1="605" y1="823.5" x2="620.2" y2="823.5" stroke="#000" stroke-width="2.2"/>
<line x1="612.6" y1="775.9" x2="612.6" y2="823.5" stroke="#000" stroke-width="2.2"/>
<line x1="643.2" y1="805.5" x2="673.8" y2="805.5" stroke="#000" stroke-width="2.2"/>
<line x1="650.9" y1="796.3" x2="666.1" y2="796.3" stroke="#000" stroke-width="2.2"/>
<line x1="650.9" y1="813.5" x2="666.1" y2="813.5" stroke="#000" stroke-width="2.2"/>
<line x1="658.5" y1="796.3" x2="658.5" y2="813.5" stroke="#000" stroke-width="2.2"/>
<line x1="406" y1="718.5" x2="406" y2="870.7" stroke="#000" stroke-width="2.2"/>
<line x1="401.2" y1="869.6" x2="683" y2="869.6" stroke="#000" stroke-width="2.2"/>
<line x1="401.4" y1="869.6" x2="406" y2="869.6" stroke="#000" stroke-width="2.2"/>
<text x="397" y="874.2" font-size="12.5" text-anchor="end" font-weight="normal" fill="#000" >0</text>
<line x1="401.4" y1="839.6" x2="406" y2="839.6" stroke="#000" stroke-width="2.2"/>
<text x="397" y="844.2" font-size="12.5" text-anchor="end" font-weight="normal" fill="#000" >10</text>
<line x1="401.4" y1="809.6" x2="406" y2="809.6" stroke="#000" stroke-width="2.2"/>
<text x="397" y="814.2" font-size="12.5" text-anchor="end" font-weight="normal" fill="#000" >20</text>
<line x1="401.4" y1="779.6" x2="406" y2="779.6" stroke="#000" stroke-width="2.2"/>
<text x="397" y="784.2" font-size="12.5" text-anchor="end" font-weight="normal" fill="#000" >30</text>
<line x1="401.4" y1="749.6" x2="406" y2="749.6" stroke="#000" stroke-width="2.2"/>
<text x="397" y="754.2" font-size="12.5" text-anchor="end" font-weight="normal" fill="#000" >40</text>
<line x1="401.4" y1="719.6" x2="406" y2="719.6" stroke="#000" stroke-width="2.2"/>
<text x="397" y="724.2" font-size="12.5" text-anchor="end" font-weight="normal" fill="#000" >50</text>
<line x1="428.7" y1="869.6" x2="428.7" y2="873.8" stroke="#000" stroke-width="2.2"/>
<text transform="translate(434.5 882.6) rotate(-45)" font-size="12.5" text-anchor="end" fill="#000">B6</text>
<line x1="474.7" y1="869.6" x2="474.7" y2="873.8" stroke="#000" stroke-width="2.2"/>
<text transform="translate(480.5 882.6) rotate(-45)" font-size="12.5" text-anchor="end" fill="#000">F1</text>
<line x1="520.7" y1="869.6" x2="520.7" y2="873.8" stroke="#000" stroke-width="2.2"/>
<text transform="translate(526.5 882.6) rotate(-45)" font-size="12.5" text-anchor="end" fill="#000">129</text>
<line x1="566.7" y1="869.6" x2="566.7" y2="873.8" stroke="#000" stroke-width="2.2"/>
<text transform="translate(572.5 882.6) rotate(-45)" font-size="12.5" text-anchor="end" fill="#000">B6</text>
<line x1="612.7" y1="869.6" x2="612.7" y2="873.8" stroke="#000" stroke-width="2.2"/>
<text transform="translate(618.5 882.6) rotate(-45)" font-size="12.5" text-anchor="end" fill="#000">F1</text>
<line x1="658.7" y1="869.6" x2="658.7" y2="873.8" stroke="#000" stroke-width="2.2"/>
<text transform="translate(664.5 882.6) rotate(-45)" font-size="12.5" text-anchor="end" fill="#000">129</text>
<line x1="417.8" y1="900.2" x2="525.6" y2="900.2" stroke="#000" stroke-width="2.1"/>
<line x1="550.6" y1="900.2" x2="657.9" y2="900.2" stroke="#000" stroke-width="2.1"/>
<text x="469.9" y="913.5" font-size="12.5" text-anchor="middle" font-weight="normal" fill="#000" >Wt</text>
<text x="605" y="913.5" font-size="12.5" text-anchor="middle" font-weight="normal" fill="#000" >Het</text>
<text x="536.2" y="926" font-size="12.5" text-anchor="middle" font-weight="normal" fill="#000" >Genotype and Bkgd</text>
<text x="541.8" y="723.5" font-size="12.5" text-anchor="middle" font-weight="normal" fill="#000" >Stroma &amp; Endothelium Cell Count</text>
<text x="415.2" y="739.9" font-size="12.5" text-anchor="start" font-weight="normal" fill="#000" >Genotype: p&lt;0.05</text>
<text x="415.2" y="754.8" font-size="12.5" text-anchor="start" font-weight="normal" fill="#000" >Bkgd: N.S.</text>
<text x="415.2" y="769.5" font-size="12.5" text-anchor="start" font-weight="normal" fill="#000" >Epistasis: N.S.</text>
<text transform="translate(373 796.5) rotate(-90)" font-size="12.5" text-anchor="middle" fill="#000">Cells/ 200 µm</text>
<text x="360.2" y="719.8" font-size="17.5" text-anchor="start" font-weight="bold" fill="#000" >E</text>
</svg>
</body></html>
